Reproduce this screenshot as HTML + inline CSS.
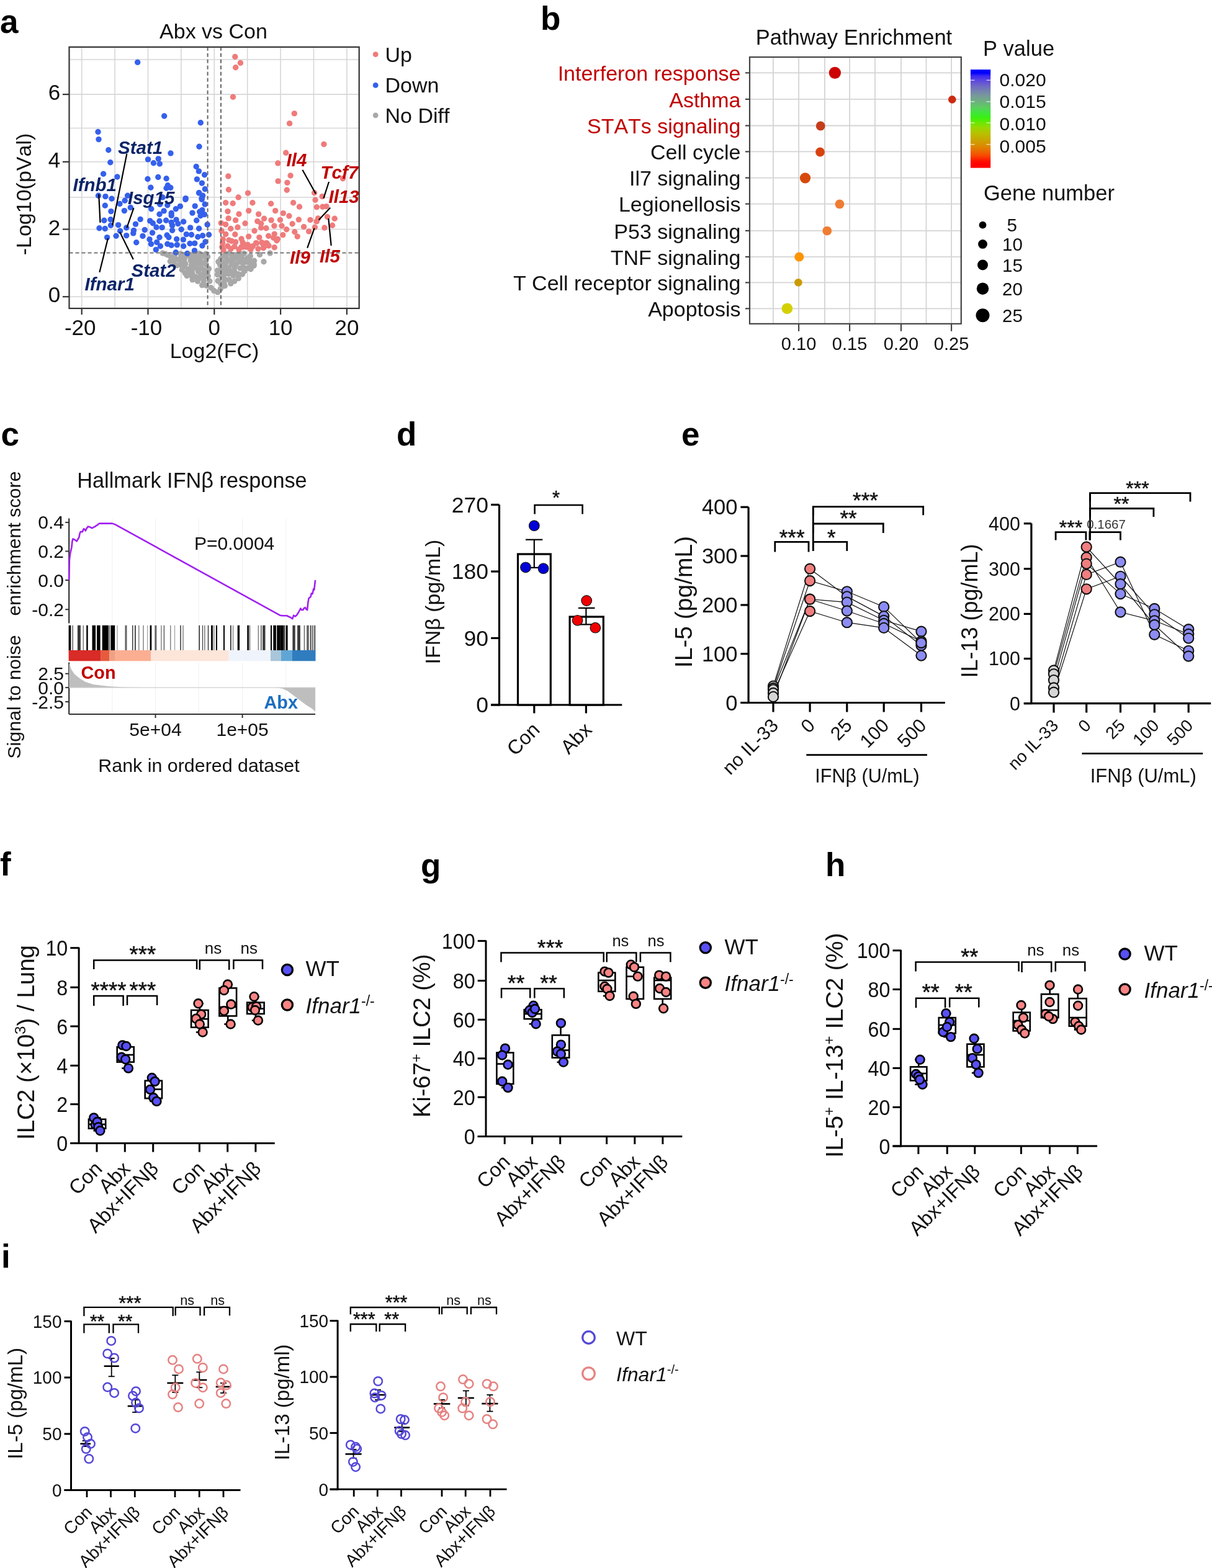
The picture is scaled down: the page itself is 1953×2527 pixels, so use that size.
<!DOCTYPE html>
<html><head><meta charset="utf-8"><title>Figure</title>
<style>html,body{margin:0;padding:0;background:#fff;}svg{display:block;}
text{font-family:"Liberation Sans", Arial, Helvetica, sans-serif;font-kerning:none;}</style></head>
<body><svg width="1953" height="2527" viewBox="0 0 1953 2527" font-family='"Liberation Sans", Arial, Helvetica, sans-serif' stroke-linecap="butt">
<rect width="1953" height="2527" fill="#fff"/>
<g>
<line x1="131.7" y1="75.8" x2="131.7" y2="497" stroke="#d6d6d6" stroke-width="1.6" />
<line x1="185.1" y1="75.8" x2="185.1" y2="497" stroke="#d6d6d6" stroke-width="1.6" />
<line x1="238.5" y1="75.8" x2="238.5" y2="497" stroke="#d6d6d6" stroke-width="1.6" />
<line x1="291.9" y1="75.8" x2="291.9" y2="497" stroke="#d6d6d6" stroke-width="1.6" />
<line x1="345.3" y1="75.8" x2="345.3" y2="497" stroke="#d6d6d6" stroke-width="1.6" />
<line x1="398.7" y1="75.8" x2="398.7" y2="497" stroke="#d6d6d6" stroke-width="1.6" />
<line x1="452.1" y1="75.8" x2="452.1" y2="497" stroke="#d6d6d6" stroke-width="1.6" />
<line x1="505.5" y1="75.8" x2="505.5" y2="497" stroke="#d6d6d6" stroke-width="1.6" />
<line x1="558.9" y1="75.8" x2="558.9" y2="497" stroke="#d6d6d6" stroke-width="1.6" />
<line x1="111.5" y1="478.2" x2="578.7" y2="478.2" stroke="#d6d6d6" stroke-width="1.6" />
<line x1="111.5" y1="369.5" x2="578.7" y2="369.5" stroke="#d6d6d6" stroke-width="1.6" />
<line x1="111.5" y1="318" x2="578.7" y2="318" stroke="#d6d6d6" stroke-width="1.6" />
<line x1="111.5" y1="260.8" x2="578.7" y2="260.8" stroke="#d6d6d6" stroke-width="1.6" />
<line x1="111.5" y1="206.5" x2="578.7" y2="206.5" stroke="#d6d6d6" stroke-width="1.6" />
<line x1="111.5" y1="152.1" x2="578.7" y2="152.1" stroke="#d6d6d6" stroke-width="1.6" />
<line x1="111.5" y1="96" x2="578.7" y2="96" stroke="#d6d6d6" stroke-width="1.6" />
</g>
<g fill="#a8a8a8">
<circle cx="297.21" cy="417.73" r="4.7"/>
<circle cx="325.51" cy="412.67" r="4.7"/>
<circle cx="315.55" cy="431.59" r="4.7"/>
<circle cx="275.24" cy="413.85" r="4.7"/>
<circle cx="279.91" cy="422.4" r="4.7"/>
<circle cx="281.68" cy="415.6" r="4.7"/>
<circle cx="324.47" cy="432.02" r="4.7"/>
<circle cx="316.58" cy="412.05" r="4.7"/>
<circle cx="274.36" cy="421.28" r="4.7"/>
<circle cx="308.4" cy="427.33" r="4.7"/>
<circle cx="337.91" cy="453.09" r="4.7"/>
<circle cx="332.3" cy="426.57" r="4.7"/>
<circle cx="335.34" cy="444.96" r="4.7"/>
<circle cx="329.34" cy="446.34" r="4.7"/>
<circle cx="319.36" cy="437.43" r="4.7"/>
<circle cx="310.21" cy="450.84" r="4.7"/>
<circle cx="340.07" cy="463.73" r="4.7"/>
<circle cx="293.28" cy="434.79" r="4.7"/>
<circle cx="320.16" cy="424.95" r="4.7"/>
<circle cx="301.14" cy="444.53" r="4.7"/>
<circle cx="303.14" cy="433.73" r="4.7"/>
<circle cx="287.26" cy="418.47" r="4.7"/>
<circle cx="298.61" cy="411.39" r="4.7"/>
<circle cx="322.32" cy="417.58" r="4.7"/>
<circle cx="309.51" cy="439.21" r="4.7"/>
<circle cx="298.84" cy="425.08" r="4.7"/>
<circle cx="314.89" cy="417.46" r="4.7"/>
<circle cx="325.68" cy="459.58" r="4.7"/>
<circle cx="334.09" cy="438.83" r="4.7"/>
<circle cx="331.9" cy="418.97" r="4.7"/>
<circle cx="290.98" cy="426.9" r="4.7"/>
<circle cx="307.27" cy="419.81" r="4.7"/>
<circle cx="303.65" cy="439.43" r="4.7"/>
<circle cx="331.67" cy="409.26" r="4.7"/>
<circle cx="318.56" cy="453.18" r="4.7"/>
<circle cx="328.73" cy="435.43" r="4.7"/>
<circle cx="314.78" cy="423.38" r="4.7"/>
<circle cx="290.86" cy="408.99" r="4.7"/>
<circle cx="332.68" cy="460.39" r="4.7"/>
<circle cx="328.27" cy="452.72" r="4.7"/>
<circle cx="311.25" cy="409.6" r="4.7"/>
<circle cx="314.56" cy="445.6" r="4.7"/>
<circle cx="321.19" cy="408.67" r="4.7"/>
<circle cx="320.77" cy="447.99" r="4.7"/>
<circle cx="350.78" cy="470.92" r="4.7"/>
<circle cx="310.13" cy="414.91" r="4.7"/>
<circle cx="281.71" cy="409.74" r="4.7"/>
<circle cx="336.51" cy="433.07" r="4.7"/>
<circle cx="325.94" cy="424.13" r="4.7"/>
<circle cx="292.89" cy="421.29" r="4.7"/>
<circle cx="285.13" cy="427.61" r="4.7"/>
<circle cx="304.08" cy="412.22" r="4.7"/>
<circle cx="298.14" cy="439.89" r="4.7"/>
<circle cx="334.64" cy="413.8" r="4.7"/>
<circle cx="323.6" cy="443.03" r="4.7"/>
<circle cx="309.91" cy="433.81" r="4.7"/>
<circle cx="309.11" cy="445.08" r="4.7"/>
<circle cx="291.57" cy="414.65" r="4.7"/>
<circle cx="296.08" cy="430.12" r="4.7"/>
<circle cx="344.78" cy="468.57" r="4.7"/>
<circle cx="328.63" cy="440.85" r="4.7"/>
<circle cx="270.45" cy="410.89" r="4.7"/>
<circle cx="369.26" cy="450.9" r="4.7"/>
<circle cx="391.63" cy="424.19" r="4.7"/>
<circle cx="364.29" cy="409.33" r="4.7"/>
<circle cx="355.43" cy="465.55" r="4.7"/>
<circle cx="351.08" cy="452.71" r="4.7"/>
<circle cx="398.66" cy="432.32" r="4.7"/>
<circle cx="380.45" cy="425.62" r="4.7"/>
<circle cx="359.61" cy="412.41" r="4.7"/>
<circle cx="383.15" cy="441.35" r="4.7"/>
<circle cx="361.36" cy="441.71" r="4.7"/>
<circle cx="354.69" cy="426.98" r="4.7"/>
<circle cx="391.02" cy="417.26" r="4.7"/>
<circle cx="382.01" cy="416.13" r="4.7"/>
<circle cx="404.13" cy="421.13" r="4.7"/>
<circle cx="409.23" cy="425.71" r="4.7"/>
<circle cx="350.45" cy="442.64" r="4.7"/>
<circle cx="373.78" cy="412.37" r="4.7"/>
<circle cx="384.22" cy="448.66" r="4.7"/>
<circle cx="378.12" cy="430.6" r="4.7"/>
<circle cx="368.22" cy="441.47" r="4.7"/>
<circle cx="363.58" cy="424.18" r="4.7"/>
<circle cx="350.51" cy="435.85" r="4.7"/>
<circle cx="356.85" cy="445.42" r="4.7"/>
<circle cx="379.76" cy="410.96" r="4.7"/>
<circle cx="376" cy="444.25" r="4.7"/>
<circle cx="377.76" cy="453.09" r="4.7"/>
<circle cx="386.94" cy="432.28" r="4.7"/>
<circle cx="377.27" cy="435.94" r="4.7"/>
<circle cx="373.14" cy="426.25" r="4.7"/>
<circle cx="361.81" cy="449.4" r="4.7"/>
<circle cx="398.73" cy="415.86" r="4.7"/>
<circle cx="386.44" cy="422.09" r="4.7"/>
<circle cx="365.33" cy="416.2" r="4.7"/>
<circle cx="403.92" cy="427.63" r="4.7"/>
<circle cx="355.61" cy="417.2" r="4.7"/>
<circle cx="361.11" cy="455.46" r="4.7"/>
<circle cx="393.64" cy="437.28" r="4.7"/>
<circle cx="357.41" cy="431.88" r="4.7"/>
<circle cx="392.98" cy="408.46" r="4.7"/>
<circle cx="376.29" cy="418.3" r="4.7"/>
<circle cx="390.41" cy="441.95" r="4.7"/>
<circle cx="392.6" cy="431.28" r="4.7"/>
<circle cx="363.82" cy="435.94" r="4.7"/>
<circle cx="368.37" cy="432.06" r="4.7"/>
<circle cx="387.98" cy="412.79" r="4.7"/>
<circle cx="371.83" cy="456.96" r="4.7"/>
<circle cx="355.79" cy="457.12" r="4.7"/>
<circle cx="369.64" cy="419.89" r="4.7"/>
<circle cx="358.39" cy="421.97" r="4.7"/>
<circle cx="409.58" cy="420.27" r="4.7"/>
<circle cx="403.34" cy="412.74" r="4.7"/>
<circle cx="362.29" cy="460.77" r="4.7"/>
<circle cx="397.35" cy="422.3" r="4.7"/>
<circle cx="351.83" cy="421.83" r="4.7"/>
<circle cx="363.43" cy="429.68" r="4.7"/>
<circle cx="404.01" cy="433.8" r="4.7"/>
<circle cx="371.35" cy="436.85" r="4.7"/>
<circle cx="369.73" cy="407.86" r="4.7"/>
<circle cx="357.12" cy="438.22" r="4.7"/>
<circle cx="385.38" cy="407.83" r="4.7"/>
<circle cx="418.5" cy="410.4" r="4.7"/>
<circle cx="425" cy="421.7" r="4.7"/>
<circle cx="435.1" cy="408" r="4.7"/>
<circle cx="262.1" cy="408" r="4.7"/>
<circle cx="266.8" cy="409.2" r="4.7"/>
<circle cx="409" cy="428.2" r="4.7"/>
</g>
<g fill="#3560ec">
<circle cx="221.7" cy="100.4" r="4.7"/>
<circle cx="264.7" cy="187" r="4.7"/>
<circle cx="323.3" cy="197.7" r="4.7"/>
<circle cx="158" cy="212.5" r="4.7"/>
<circle cx="159" cy="224.6" r="4.7"/>
<circle cx="321" cy="236.2" r="4.7"/>
<circle cx="174.8" cy="241.8" r="4.7"/>
<circle cx="275" cy="247" r="4.7"/>
<circle cx="238.5" cy="256.9" r="4.7"/>
<circle cx="255.2" cy="255.9" r="4.7"/>
<circle cx="247.4" cy="262.8" r="4.7"/>
<circle cx="257.3" cy="264" r="4.7"/>
<circle cx="177.8" cy="261.8" r="4.7"/>
<circle cx="316.2" cy="268.5" r="4.7"/>
<circle cx="320.4" cy="275.9" r="4.7"/>
<circle cx="329.6" cy="281.8" r="4.7"/>
<circle cx="166.6" cy="280.3" r="4.7"/>
<circle cx="188.9" cy="285" r="4.7"/>
<circle cx="238" cy="288.5" r="4.7"/>
<circle cx="254.8" cy="285.5" r="4.7"/>
<circle cx="268.1" cy="287.7" r="4.7"/>
<circle cx="317.4" cy="288.9" r="4.7"/>
<circle cx="325.4" cy="295.1" r="4.7"/>
<circle cx="242.9" cy="302.2" r="4.7"/>
<circle cx="270.3" cy="298.8" r="4.7"/>
<circle cx="274.8" cy="302.5" r="4.7"/>
<circle cx="268.1" cy="303.3" r="4.7"/>
<circle cx="330.3" cy="304.7" r="4.7"/>
<circle cx="320.7" cy="310.7" r="4.7"/>
<circle cx="158.5" cy="315.2" r="4.7"/>
<circle cx="169.9" cy="316.6" r="4.7"/>
<circle cx="180" cy="320.3" r="4.7"/>
<circle cx="205.6" cy="315.2" r="4.7"/>
<circle cx="201.2" cy="323.3" r="4.7"/>
<circle cx="193" cy="328.5" r="4.7"/>
<circle cx="210.3" cy="334.4" r="4.7"/>
<circle cx="169.3" cy="331.2" r="4.7"/>
<circle cx="178.9" cy="340.6" r="4.7"/>
<circle cx="200.4" cy="339.6" r="4.7"/>
<circle cx="326.6" cy="315.2" r="4.7"/>
<circle cx="325.1" cy="319.6" r="4.7"/>
<circle cx="299.2" cy="319.6" r="4.7"/>
<circle cx="167.8" cy="355.2" r="4.7"/>
<circle cx="178.2" cy="353.7" r="4.7"/>
<circle cx="160" cy="367.7" r="4.7"/>
<circle cx="169.3" cy="368.5" r="4.7"/>
<circle cx="178.5" cy="363.3" r="4.7"/>
<circle cx="190.6" cy="362.6" r="4.7"/>
<circle cx="203.7" cy="367" r="4.7"/>
<circle cx="218.5" cy="361.1" r="4.7"/>
<circle cx="215.5" cy="371.4" r="4.7"/>
<circle cx="193.6" cy="372.2" r="4.7"/>
<circle cx="172.6" cy="382.6" r="4.7"/>
<circle cx="187.1" cy="380.3" r="4.7"/>
<circle cx="203.7" cy="379.6" r="4.7"/>
<circle cx="214.8" cy="375.9" r="4.7"/>
<circle cx="219.7" cy="390.7" r="4.7"/>
<circle cx="320.6" cy="311" r="4.7"/>
<circle cx="262" cy="318" r="4.7"/>
<circle cx="298.9" cy="321.4" r="4.7"/>
<circle cx="325.2" cy="321.4" r="4.7"/>
<circle cx="257.7" cy="329.2" r="4.7"/>
<circle cx="269.8" cy="330.7" r="4.7"/>
<circle cx="290.4" cy="332.4" r="4.7"/>
<circle cx="283.3" cy="336.7" r="4.7"/>
<circle cx="314.2" cy="332.1" r="4.7"/>
<circle cx="330.2" cy="329.2" r="4.7"/>
<circle cx="243.8" cy="336.7" r="4.7"/>
<circle cx="264.1" cy="339.9" r="4.7"/>
<circle cx="257" cy="345.2" r="4.7"/>
<circle cx="276.2" cy="343.5" r="4.7"/>
<circle cx="276.2" cy="347.4" r="4.7"/>
<circle cx="310" cy="343.1" r="4.7"/>
<circle cx="321.7" cy="341.3" r="4.7"/>
<circle cx="325.9" cy="338.5" r="4.7"/>
<circle cx="329.5" cy="345.6" r="4.7"/>
<circle cx="323.1" cy="347.7" r="4.7"/>
<circle cx="316.7" cy="355.2" r="4.7"/>
<circle cx="226.1" cy="353.4" r="4.7"/>
<circle cx="241.7" cy="355.9" r="4.7"/>
<circle cx="246.3" cy="359.8" r="4.7"/>
<circle cx="252" cy="366.2" r="4.7"/>
<circle cx="261.2" cy="366.6" r="4.7"/>
<circle cx="257" cy="356.2" r="4.7"/>
<circle cx="267.6" cy="355.2" r="4.7"/>
<circle cx="276.2" cy="358.4" r="4.7"/>
<circle cx="277.6" cy="363.4" r="4.7"/>
<circle cx="277.6" cy="371.2" r="4.7"/>
<circle cx="284" cy="354.1" r="4.7"/>
<circle cx="286.8" cy="360.5" r="4.7"/>
<circle cx="295.7" cy="357.3" r="4.7"/>
<circle cx="292.2" cy="369.8" r="4.7"/>
<circle cx="306.7" cy="366.9" r="4.7"/>
<circle cx="320.6" cy="368.3" r="4.7"/>
<circle cx="334.1" cy="361.9" r="4.7"/>
<circle cx="233.2" cy="370.5" r="4.7"/>
<circle cx="245.6" cy="375.1" r="4.7"/>
<circle cx="230" cy="380.4" r="4.7"/>
<circle cx="269.1" cy="379" r="4.7"/>
<circle cx="271.9" cy="382.5" r="4.7"/>
<circle cx="257" cy="382.5" r="4.7"/>
<circle cx="241" cy="385.7" r="4.7"/>
<circle cx="243.5" cy="393.2" r="4.7"/>
<circle cx="252.7" cy="390.4" r="4.7"/>
<circle cx="258.4" cy="396.8" r="4.7"/>
<circle cx="251.3" cy="402.4" r="4.7"/>
<circle cx="269.8" cy="393.2" r="4.7"/>
<circle cx="276.2" cy="395.3" r="4.7"/>
<circle cx="284.7" cy="385.4" r="4.7"/>
<circle cx="285.4" cy="394.6" r="4.7"/>
<circle cx="295.4" cy="386.1" r="4.7"/>
<circle cx="295.7" cy="396.8" r="4.7"/>
<circle cx="300.3" cy="377.6" r="4.7"/>
<circle cx="308.5" cy="378.3" r="4.7"/>
<circle cx="306" cy="392.5" r="4.7"/>
<circle cx="313.8" cy="392.1" r="4.7"/>
<circle cx="318.8" cy="381.8" r="4.7"/>
<circle cx="326.6" cy="379.7" r="4.7"/>
<circle cx="336.6" cy="378.3" r="4.7"/>
<circle cx="330.9" cy="389.7" r="4.7"/>
<circle cx="325.9" cy="396" r="4.7"/>
<circle cx="283.3" cy="406.7" r="4.7"/>
<circle cx="301.8" cy="408.5" r="4.7"/>
<circle cx="313.5" cy="403.9" r="4.7"/>
</g>
<g fill="#ef7b7b">
<circle cx="378.8" cy="91.5" r="4.7"/>
<circle cx="387.4" cy="101.4" r="4.7"/>
<circle cx="379.7" cy="108.8" r="4.7"/>
<circle cx="375.5" cy="156.2" r="4.7"/>
<circle cx="474.3" cy="182.9" r="4.7"/>
<circle cx="466.6" cy="198.9" r="4.7"/>
<circle cx="521.9" cy="232.5" r="4.7"/>
<circle cx="460.7" cy="246.2" r="4.7"/>
<circle cx="447.8" cy="263" r="4.7"/>
<circle cx="367.8" cy="284" r="4.7"/>
<circle cx="468.1" cy="283" r="4.7"/>
<circle cx="448.1" cy="291.9" r="4.7"/>
<circle cx="462.9" cy="294.4" r="4.7"/>
<circle cx="552.5" cy="287.7" r="4.7"/>
<circle cx="368.4" cy="305.8" r="4.7"/>
<circle cx="462.3" cy="306.2" r="4.7"/>
<circle cx="399.5" cy="311.1" r="4.7"/>
<circle cx="506.6" cy="310.7" r="4.7"/>
<circle cx="519.2" cy="316.6" r="4.7"/>
<circle cx="384.1" cy="318" r="4.7"/>
<circle cx="363.7" cy="326.7" r="4.7"/>
<circle cx="375.2" cy="327.8" r="4.7"/>
<circle cx="406.9" cy="326.7" r="4.7"/>
<circle cx="436.6" cy="328.2" r="4.7"/>
<circle cx="472.6" cy="326.7" r="4.7"/>
<circle cx="482.5" cy="333.2" r="4.7"/>
<circle cx="508.1" cy="322.3" r="4.7"/>
<circle cx="510.3" cy="333.7" r="4.7"/>
<circle cx="519.9" cy="333.2" r="4.7"/>
<circle cx="525.9" cy="332.6" r="4.7"/>
<circle cx="367" cy="340.6" r="4.7"/>
<circle cx="400.7" cy="339.6" r="4.7"/>
<circle cx="443.7" cy="339.6" r="4.7"/>
<circle cx="416.7" cy="345.1" r="4.7"/>
<circle cx="456.3" cy="343.6" r="4.7"/>
<circle cx="465.9" cy="348" r="4.7"/>
<circle cx="368.1" cy="351.9" r="4.7"/>
<circle cx="379.7" cy="354.9" r="4.7"/>
<circle cx="425.6" cy="352.2" r="4.7"/>
<circle cx="414.8" cy="356.6" r="4.7"/>
<circle cx="437" cy="354.9" r="4.7"/>
<circle cx="451.4" cy="354.4" r="4.7"/>
<circle cx="481.4" cy="354" r="4.7"/>
<circle cx="500" cy="354.4" r="4.7"/>
<circle cx="512.5" cy="351.9" r="4.7"/>
<circle cx="527.4" cy="349.5" r="4.7"/>
<circle cx="539.2" cy="352.2" r="4.7"/>
<circle cx="510.3" cy="356.9" r="4.7"/>
<circle cx="356.3" cy="359.6" r="4.7"/>
<circle cx="363.7" cy="361.8" r="4.7"/>
<circle cx="371.8" cy="368.5" r="4.7"/>
<circle cx="383" cy="366.3" r="4.7"/>
<circle cx="420.7" cy="360.3" r="4.7"/>
<circle cx="420.7" cy="367" r="4.7"/>
<circle cx="428.9" cy="367.7" r="4.7"/>
<circle cx="441.9" cy="364" r="4.7"/>
<circle cx="454" cy="364" r="4.7"/>
<circle cx="461.7" cy="369.7" r="4.7"/>
<circle cx="471.1" cy="360.8" r="4.7"/>
<circle cx="489.6" cy="365.5" r="4.7"/>
<circle cx="507.4" cy="366.3" r="4.7"/>
<circle cx="522.9" cy="367" r="4.7"/>
<circle cx="535.5" cy="363.3" r="4.7"/>
<circle cx="497.7" cy="372.9" r="4.7"/>
<circle cx="474.8" cy="373.7" r="4.7"/>
<circle cx="479.2" cy="381.1" r="4.7"/>
<circle cx="363.7" cy="377.4" r="4.7"/>
<circle cx="378.8" cy="377.7" r="4.7"/>
<circle cx="400.7" cy="381.1" r="4.7"/>
<circle cx="417.8" cy="382.6" r="4.7"/>
<circle cx="432.6" cy="380.3" r="4.7"/>
<circle cx="442.2" cy="377.1" r="4.7"/>
<circle cx="455.8" cy="378.6" r="4.7"/>
<circle cx="359.3" cy="385.5" r="4.7"/>
<circle cx="368.9" cy="387" r="4.7"/>
<circle cx="373.3" cy="388.5" r="4.7"/>
<circle cx="379.7" cy="390" r="4.7"/>
<circle cx="391.1" cy="390.7" r="4.7"/>
<circle cx="399.2" cy="394.4" r="4.7"/>
<circle cx="407.4" cy="396.6" r="4.7"/>
<circle cx="413.3" cy="391.9" r="4.7"/>
<circle cx="422.9" cy="392.2" r="4.7"/>
<circle cx="430.3" cy="392.2" r="4.7"/>
<circle cx="445.9" cy="387.7" r="4.7"/>
<circle cx="440.7" cy="383.3" r="4.7"/>
<circle cx="357.8" cy="398.1" r="4.7"/>
<circle cx="366.7" cy="396.6" r="4.7"/>
<circle cx="377.8" cy="397.4" r="4.7"/>
<circle cx="388.9" cy="398.1" r="4.7"/>
<circle cx="397" cy="398.1" r="4.7"/>
<circle cx="424.4" cy="399.6" r="4.7"/>
<circle cx="442.2" cy="398.8" r="4.7"/>
<circle cx="447.4" cy="385.2" r="4.7"/>
<circle cx="358.6" cy="391.6" r="4.7"/>
<circle cx="396.2" cy="395.2" r="4.7"/>
<circle cx="407.1" cy="397.1" r="4.7"/>
<circle cx="412.6" cy="391.6" r="4.7"/>
<circle cx="421.8" cy="390.7" r="4.7"/>
<circle cx="429.1" cy="391.6" r="4.7"/>
<circle cx="425.5" cy="398" r="4.7"/>
<circle cx="391.6" cy="398" r="4.7"/>
<circle cx="385" cy="402" r="4.7"/>
<circle cx="416" cy="401" r="4.7"/>
<circle cx="372" cy="401" r="4.7"/>
<circle cx="360" cy="403" r="4.7"/>
<circle cx="433" cy="396" r="4.7"/>
<circle cx="404" cy="402" r="4.7"/>
<circle cx="357" cy="372" r="4.7"/>
<circle cx="389" cy="385" r="4.7"/>
<circle cx="410" cy="372" r="4.7"/>
<circle cx="395" cy="360" r="4.7"/>
<circle cx="385" cy="345" r="4.7"/>
</g>
<line x1="334.62" y1="75.8" x2="334.62" y2="497" stroke="#666" stroke-width="2" stroke-dasharray="6,4"/>
<line x1="355.98" y1="75.8" x2="355.98" y2="497" stroke="#666" stroke-width="2" stroke-dasharray="6,4"/>
<line x1="111.5" y1="407.54" x2="578.7" y2="407.54" stroke="#777" stroke-width="2" stroke-dasharray="6,4"/>
<rect x="111.5" y="75.8" width="467.2" height="421.2" fill="none" stroke="#333" stroke-width="2.2" />
<line x1="131.7" y1="497" x2="131.7" y2="507" stroke="#333" stroke-width="2.2" />
<text x="129.2" y="540" font-size="35" text-anchor="middle" fill="#111">-20</text>
<line x1="238.5" y1="497" x2="238.5" y2="507" stroke="#333" stroke-width="2.2" />
<text x="236" y="540" font-size="35" text-anchor="middle" fill="#111">-10</text>
<line x1="345.3" y1="497" x2="345.3" y2="507" stroke="#333" stroke-width="2.2" />
<text x="345.3" y="540" font-size="35" text-anchor="middle" fill="#111">0</text>
<line x1="452.1" y1="497" x2="452.1" y2="507" stroke="#333" stroke-width="2.2" />
<text x="452.1" y="540" font-size="35" text-anchor="middle" fill="#111">10</text>
<line x1="558.9" y1="497" x2="558.9" y2="507" stroke="#333" stroke-width="2.2" />
<text x="558.9" y="540" font-size="35" text-anchor="middle" fill="#111">20</text>
<line x1="100.9" y1="478.2" x2="111.5" y2="478.2" stroke="#333" stroke-width="2.2" />
<text x="97.2" y="487.2" font-size="35" text-anchor="end" fill="#111">0</text>
<line x1="100.9" y1="369.5" x2="111.5" y2="369.5" stroke="#333" stroke-width="2.2" />
<text x="97.2" y="378.5" font-size="35" text-anchor="end" fill="#111">2</text>
<line x1="100.9" y1="260.8" x2="111.5" y2="260.8" stroke="#333" stroke-width="2.2" />
<text x="97.2" y="269.8" font-size="35" text-anchor="end" fill="#111">4</text>
<line x1="100.9" y1="152.1" x2="111.5" y2="152.1" stroke="#333" stroke-width="2.2" />
<text x="97.2" y="161.1" font-size="35" text-anchor="end" fill="#111">6</text>
<text x="345.5" y="577" font-size="34" text-anchor="middle" fill="#111">Log2(FC)</text>
<text x="50" y="313" font-size="34" text-anchor="middle" fill="#111" transform="rotate(-90 50 313)">-Log10(pVal)</text>
<text x="344" y="61.5" font-size="34" text-anchor="middle" fill="#111">Abx vs Con</text>
<circle cx="605.2" cy="87.7" r="4.4" fill="#ef7b7b" />
<circle cx="605.2" cy="137.4" r="4.4" fill="#3560ec" />
<circle cx="605.2" cy="185.8" r="4.4" fill="#a8a8a8" />
<text x="620.5" y="99.5" font-size="34" fill="#111">Up</text>
<text x="620.5" y="149" font-size="34" fill="#111">Down</text>
<text x="620.5" y="197.5" font-size="34" fill="#111">No Diff</text>
<text x="190" y="247.5" font-size="29.5" font-weight="bold" font-style="italic" fill="#0b2468">Stat1</text>
<text x="117.5" y="308.3" font-size="29.5" font-weight="bold" font-style="italic" fill="#0b2468">Ifnb1</text>
<text x="206" y="329" font-size="29.5" font-weight="bold" font-style="italic" fill="#0b2468">Isg15</text>
<text x="211.5" y="446" font-size="29.5" font-weight="bold" font-style="italic" fill="#0b2468">Stat2</text>
<text x="136.5" y="467.5" font-size="29.5" font-weight="bold" font-style="italic" fill="#0b2468">Ifnar1</text>
<text x="461.5" y="268.3" font-size="29.5" font-weight="bold" font-style="italic" fill="#c00000">Il4</text>
<text x="516.5" y="287.6" font-size="29.5" font-weight="bold" font-style="italic" fill="#c00000">Tcf7</text>
<text x="529.5" y="326.8" font-size="29.5" font-weight="bold" font-style="italic" fill="#c00000">Il13</text>
<text x="467" y="425.3" font-size="29.5" font-weight="bold" font-style="italic" fill="#c00000">Il9</text>
<text x="515" y="423.1" font-size="29.5" font-weight="bold" font-style="italic" fill="#c00000">Il5</text>
<line x1="159.2" y1="313" x2="161.5" y2="358.9" stroke="#000" stroke-width="2.2" />
<line x1="204.4" y1="247.7" x2="181.2" y2="363.3" stroke="#000" stroke-width="2.2" />
<line x1="215.5" y1="335.2" x2="204.4" y2="367" stroke="#000" stroke-width="2.2" />
<line x1="193" y1="373.7" x2="214.8" y2="418.1" stroke="#000" stroke-width="2.2" />
<line x1="174" y1="384" x2="160.4" y2="438.8" stroke="#000" stroke-width="2.2" />
<line x1="487.4" y1="273.7" x2="508.8" y2="312.2" stroke="#000" stroke-width="2.2" />
<line x1="530" y1="293" x2="521.4" y2="319.6" stroke="#000" stroke-width="2.2" />
<line x1="532.2" y1="334.7" x2="513.6" y2="354.4" stroke="#000" stroke-width="2.2" />
<line x1="506.6" y1="367.7" x2="495.2" y2="399.6" stroke="#000" stroke-width="2.2" />
<line x1="529.3" y1="352.2" x2="533.7" y2="395.9" stroke="#000" stroke-width="2.2" />
<text x="0" y="52.5" font-size="53" font-weight="bold">a</text>
<line x1="1245.9" y1="92" x2="1245.9" y2="521.8" stroke="#d4d4d4" stroke-width="1.8" />
<line x1="1287.1" y1="92" x2="1287.1" y2="521.8" stroke="#d4d4d4" stroke-width="1.8" />
<line x1="1329" y1="92" x2="1329" y2="521.8" stroke="#d4d4d4" stroke-width="1.8" />
<line x1="1369.1" y1="92" x2="1369.1" y2="521.8" stroke="#d4d4d4" stroke-width="1.8" />
<line x1="1410" y1="92" x2="1410" y2="521.8" stroke="#d4d4d4" stroke-width="1.8" />
<line x1="1452" y1="92" x2="1452" y2="521.8" stroke="#d4d4d4" stroke-width="1.8" />
<line x1="1492.5" y1="92" x2="1492.5" y2="521.8" stroke="#d4d4d4" stroke-width="1.8" />
<line x1="1533.1" y1="92" x2="1533.1" y2="521.8" stroke="#d4d4d4" stroke-width="1.8" />
<line x1="1208" y1="117.4" x2="1548.8" y2="117.4" stroke="#d4d4d4" stroke-width="1.8" />
<line x1="1208" y1="159.9" x2="1548.8" y2="159.9" stroke="#d4d4d4" stroke-width="1.8" />
<line x1="1208" y1="202.5" x2="1548.8" y2="202.5" stroke="#d4d4d4" stroke-width="1.8" />
<line x1="1208" y1="244.4" x2="1548.8" y2="244.4" stroke="#d4d4d4" stroke-width="1.8" />
<line x1="1208" y1="286.6" x2="1548.8" y2="286.6" stroke="#d4d4d4" stroke-width="1.8" />
<line x1="1208" y1="328.6" x2="1548.8" y2="328.6" stroke="#d4d4d4" stroke-width="1.8" />
<line x1="1208" y1="371.8" x2="1548.8" y2="371.8" stroke="#d4d4d4" stroke-width="1.8" />
<line x1="1208" y1="413.9" x2="1548.8" y2="413.9" stroke="#d4d4d4" stroke-width="1.8" />
<line x1="1208" y1="455.4" x2="1548.8" y2="455.4" stroke="#d4d4d4" stroke-width="1.8" />
<line x1="1208" y1="497.3" x2="1548.8" y2="497.3" stroke="#d4d4d4" stroke-width="1.8" />
<rect x="1208" y="92" width="340.8" height="429.8" fill="none" stroke="#444" stroke-width="2.2" />
<line x1="1201" y1="117.4" x2="1208" y2="117.4" stroke="#444" stroke-width="2.2" />
<line x1="1201" y1="159.9" x2="1208" y2="159.9" stroke="#444" stroke-width="2.2" />
<line x1="1201" y1="202.5" x2="1208" y2="202.5" stroke="#444" stroke-width="2.2" />
<line x1="1201" y1="244.4" x2="1208" y2="244.4" stroke="#444" stroke-width="2.2" />
<line x1="1201" y1="286.6" x2="1208" y2="286.6" stroke="#444" stroke-width="2.2" />
<line x1="1201" y1="328.6" x2="1208" y2="328.6" stroke="#444" stroke-width="2.2" />
<line x1="1201" y1="371.8" x2="1208" y2="371.8" stroke="#444" stroke-width="2.2" />
<line x1="1201" y1="413.9" x2="1208" y2="413.9" stroke="#444" stroke-width="2.2" />
<line x1="1201" y1="455.4" x2="1208" y2="455.4" stroke="#444" stroke-width="2.2" />
<line x1="1201" y1="497.3" x2="1208" y2="497.3" stroke="#444" stroke-width="2.2" />
<line x1="1287.1" y1="521.8" x2="1287.1" y2="533.8" stroke="#444" stroke-width="2.2" />
<line x1="1369.1" y1="521.8" x2="1369.1" y2="533.8" stroke="#444" stroke-width="2.2" />
<line x1="1452" y1="521.8" x2="1452" y2="533.8" stroke="#444" stroke-width="2.2" />
<line x1="1533.1" y1="521.8" x2="1533.1" y2="533.8" stroke="#444" stroke-width="2.2" />
<text x="1193.5" y="130.2" font-size="34" text-anchor="end" fill="#c00000">Interferon response</text>
<text x="1193.5" y="172.7" font-size="34" text-anchor="end" fill="#c00000">Asthma</text>
<text x="1193.5" y="215.3" font-size="34" text-anchor="end" fill="#c00000">STATs signaling</text>
<text x="1193.5" y="257.2" font-size="34" text-anchor="end" fill="#111">Cell cycle</text>
<text x="1193.5" y="299.4" font-size="34" text-anchor="end" fill="#111">Il7 signaling</text>
<text x="1193.5" y="341.4" font-size="34" text-anchor="end" fill="#111">Legionellosis</text>
<text x="1193.5" y="384.6" font-size="34" text-anchor="end" fill="#111">P53 signaling</text>
<text x="1193.5" y="426.7" font-size="34" text-anchor="end" fill="#111">TNF signaling</text>
<text x="1193.5" y="468.2" font-size="34" text-anchor="end" fill="#111">T Cell receptor signaling</text>
<text x="1193.5" y="510.1" font-size="34" text-anchor="end" fill="#111">Apoptosis</text>
<circle cx="1345.4" cy="117.4" r="9.6" fill="#cc0000" />
<circle cx="1534.3" cy="160.4" r="6.3" fill="#cc2a10" />
<circle cx="1322.2" cy="203" r="7.4" fill="#c43c1a" />
<circle cx="1321.5" cy="245" r="7.4" fill="#d8420e" />
<circle cx="1297.5" cy="286.9" r="8.6" fill="#d64a0c" />
<circle cx="1353" cy="328.9" r="7.4" fill="#f07c32" />
<circle cx="1332.8" cy="372.1" r="7.4" fill="#f07c32" />
<circle cx="1287.8" cy="414" r="7.6" fill="#ff9400" />
<circle cx="1286.4" cy="455.3" r="6.3" fill="#cc9a00" />
<circle cx="1268.4" cy="497.2" r="8.8" fill="#d4d000" />
<text x="1287.1" y="564.3" font-size="29" text-anchor="middle" fill="#111">0.10</text>
<text x="1369.1" y="564.3" font-size="29" text-anchor="middle" fill="#111">0.15</text>
<text x="1452" y="564.3" font-size="29" text-anchor="middle" fill="#111">0.20</text>
<text x="1533.1" y="564.3" font-size="29" text-anchor="middle" fill="#111">0.25</text>
<text x="1376" y="72" font-size="34.5" text-anchor="middle" fill="#111">Pathway Enrichment</text>
<text x="1584" y="89.8" font-size="34.5" fill="#111">P value</text>
<defs><linearGradient id="cb" x1="0" y1="0" x2="0" y2="1"><stop offset="0" stop-color="#0000ff"/><stop offset="0.036" stop-color="#0000ff"/><stop offset="0.064" stop-color="#3c28f0"/><stop offset="0.11" stop-color="#5a46e0"/><stop offset="0.16" stop-color="#6e64c8"/><stop offset="0.216" stop-color="#7482b0"/><stop offset="0.27" stop-color="#789a98"/><stop offset="0.33" stop-color="#6cb27e"/><stop offset="0.384" stop-color="#5ccc60"/><stop offset="0.44" stop-color="#3ee63a"/><stop offset="0.49" stop-color="#3af010"/><stop offset="0.54" stop-color="#6ae800"/><stop offset="0.59" stop-color="#98d800"/><stop offset="0.65" stop-color="#b8c000"/><stop offset="0.71" stop-color="#c8a800"/><stop offset="0.765" stop-color="#d89000"/><stop offset="0.82" stop-color="#e87000"/><stop offset="0.877" stop-color="#f84800"/><stop offset="0.93" stop-color="#ff1000"/><stop offset="0.965" stop-color="#ff0000"/><stop offset="1" stop-color="#ff0000"/></linearGradient></defs>
<rect x="1563.9" y="112.1" width="32.3" height="158.5" fill="url(#cb)" stroke="none" stroke-width="0" />
<line x1="1563.9" y1="129.3" x2="1570.5" y2="129.3" stroke="#fff" stroke-width="1.4" stroke-opacity="0.7"/>
<line x1="1589.5" y1="129.3" x2="1596.2" y2="129.3" stroke="#fff" stroke-width="1.4" stroke-opacity="0.7"/>
<text x="1610.5" y="138.6" font-size="30" fill="#111">0.020</text>
<line x1="1563.9" y1="163.8" x2="1570.5" y2="163.8" stroke="#fff" stroke-width="1.4" stroke-opacity="0.7"/>
<line x1="1589.5" y1="163.8" x2="1596.2" y2="163.8" stroke="#fff" stroke-width="1.4" stroke-opacity="0.7"/>
<text x="1610.5" y="174.2" font-size="30" fill="#111">0.015</text>
<line x1="1563.9" y1="198" x2="1570.5" y2="198" stroke="#fff" stroke-width="1.4" stroke-opacity="0.7"/>
<line x1="1589.5" y1="198" x2="1596.2" y2="198" stroke="#fff" stroke-width="1.4" stroke-opacity="0.7"/>
<text x="1610.5" y="210.1" font-size="30" fill="#111">0.010</text>
<line x1="1563.9" y1="232.7" x2="1570.5" y2="232.7" stroke="#fff" stroke-width="1.4" stroke-opacity="0.7"/>
<line x1="1589.5" y1="232.7" x2="1596.2" y2="232.7" stroke="#fff" stroke-width="1.4" stroke-opacity="0.7"/>
<text x="1610.5" y="245.7" font-size="30" fill="#111">0.005</text>
<text x="1585" y="323" font-size="34.5" fill="#111">Gene number</text>
<circle cx="1583.5" cy="362.7" r="5.9" fill="#000" />
<text x="1622.5" y="373.2" font-size="29.5" fill="#111">5</text>
<circle cx="1583.5" cy="393.4" r="7.4" fill="#000" />
<text x="1615" y="403.9" font-size="29.5" fill="#111">10</text>
<circle cx="1583.5" cy="427" r="8.5" fill="#000" />
<text x="1615" y="437.5" font-size="29.5" fill="#111">15</text>
<circle cx="1583.5" cy="465.2" r="9.7" fill="#000" />
<text x="1615" y="475.7" font-size="29.5" fill="#111">20</text>
<circle cx="1583.5" cy="508.2" r="11" fill="#000" />
<text x="1615" y="518.7" font-size="29.5" fill="#111">25</text>
<text x="871" y="48" font-size="53" font-weight="bold">b</text>
<line x1="180.9" y1="836" x2="180.9" y2="1005" stroke="#f1f1f1" stroke-width="1" />
<line x1="180.9" y1="1068" x2="180.9" y2="1150" stroke="#f1f1f1" stroke-width="1" />
<line x1="250.5" y1="836" x2="250.5" y2="1005" stroke="#f1f1f1" stroke-width="1" />
<line x1="250.5" y1="1068" x2="250.5" y2="1150" stroke="#f1f1f1" stroke-width="1" />
<line x1="320.2" y1="836" x2="320.2" y2="1005" stroke="#f1f1f1" stroke-width="1" />
<line x1="320.2" y1="1068" x2="320.2" y2="1150" stroke="#f1f1f1" stroke-width="1" />
<line x1="390.6" y1="836" x2="390.6" y2="1005" stroke="#f1f1f1" stroke-width="1" />
<line x1="390.6" y1="1068" x2="390.6" y2="1150" stroke="#f1f1f1" stroke-width="1" />
<line x1="460.8" y1="836" x2="460.8" y2="1005" stroke="#f1f1f1" stroke-width="1" />
<line x1="460.8" y1="1068" x2="460.8" y2="1150" stroke="#f1f1f1" stroke-width="1" />
<line x1="111.2" y1="835.4" x2="111.2" y2="1004.5" stroke="#333" stroke-width="2.2" />
<line x1="105.2" y1="841.9" x2="111.2" y2="841.9" stroke="#333" stroke-width="2" />
<text x="103" y="852.4" font-size="30" text-anchor="end" fill="#111">0.4</text>
<line x1="105.2" y1="888.4" x2="111.2" y2="888.4" stroke="#333" stroke-width="2" />
<text x="103" y="898.9" font-size="30" text-anchor="end" fill="#111">0.2</text>
<line x1="105.2" y1="935" x2="111.2" y2="935" stroke="#333" stroke-width="2" />
<text x="103" y="945.5" font-size="30" text-anchor="end" fill="#111">0.0</text>
<line x1="105.2" y1="982.2" x2="111.2" y2="982.2" stroke="#333" stroke-width="2" />
<text x="103" y="992.7" font-size="30" text-anchor="end" fill="#111">-0.2</text>
<polyline points="111.2,935 111.6,915 111.9,902.1 113,893 113.7,889.7 115.4,882.2 116.5,872 117.4,868.5 120,869.5 123.6,872.3 125.5,869 127.4,866 128.5,860 129.9,856.8 132.8,857.3 134.8,852.3 136.5,853 137.8,855.3 140,851 141.8,848.6 145,849.5 148.5,851.1 151,849.5 153.5,848.6 155,847 157.2,846.1 159,844 161,843.6 170,843.6 180.9,843.6 185.8,845.4 451.2,991.7 455,992.1 462,992.2 468,995 471.2,997.2 473.2,991.7 475.7,993.4 478.2,991.2 481,987 484.4,980.5 486,983 488.2,983 490,980 491.9,979.2 493.5,982 495.1,983 496.5,970 497.6,964.3 500.6,961.8 501.8,956.4 503.6,956.9 505.1,949.4 506.3,950.6 507.2,942 508.1,935" stroke="#a020f0" stroke-width="2.6" fill="none" stroke-linejoin="round"/>
<rect x="110.6" y="1007.8" width="3.7" height="40.3" fill="#000" stroke="none" stroke-width="0" />
<rect x="116.4" y="1007.8" width="1.6" height="40.3" fill="#666" stroke="none" stroke-width="0" />
<rect x="124.9" y="1007.8" width="5" height="40.3" fill="#3a3a3a" stroke="none" stroke-width="0" />
<rect x="133.6" y="1007.8" width="1.3" height="40.3" fill="#666" stroke="none" stroke-width="0" />
<rect x="139.2" y="1007.8" width="2.5" height="40.3" fill="#000" stroke="none" stroke-width="0" />
<rect x="148.5" y="1007.8" width="5.6" height="40.3" fill="#000" stroke="none" stroke-width="0" />
<rect x="156" y="1007.8" width="5.6" height="40.3" fill="#000" stroke="none" stroke-width="0" />
<rect x="164.7" y="1007.8" width="10" height="40.3" fill="#000" stroke="none" stroke-width="0" />
<rect x="175.3" y="1007.8" width="1.9" height="40.3" fill="#666" stroke="none" stroke-width="0" />
<rect x="178.4" y="1007.8" width="6.8" height="40.3" fill="#000" stroke="none" stroke-width="0" />
<rect x="188.4" y="1007.8" width="1.2" height="40.3" fill="#999" stroke="none" stroke-width="0" />
<rect x="201.4" y="1007.8" width="3.1" height="40.3" fill="#666" stroke="none" stroke-width="0" />
<rect x="213" y="1007.8" width="1.5" height="40.3" fill="#3a3a3a" stroke="none" stroke-width="0" />
<rect x="217" y="1007.8" width="1.8" height="40.3" fill="#3a3a3a" stroke="none" stroke-width="0" />
<rect x="223.2" y="1007.8" width="1.2" height="40.3" fill="#666" stroke="none" stroke-width="0" />
<rect x="230.4" y="1007.8" width="1.2" height="40.3" fill="#666" stroke="none" stroke-width="0" />
<rect x="237.1" y="1007.8" width="1.1" height="40.3" fill="#999" stroke="none" stroke-width="0" />
<rect x="241.6" y="1007.8" width="2.7" height="40.3" fill="#000" stroke="none" stroke-width="0" />
<rect x="249.3" y="1007.8" width="3.1" height="40.3" fill="#666" stroke="none" stroke-width="0" />
<rect x="259.3" y="1007.8" width="1.2" height="40.3" fill="#666" stroke="none" stroke-width="0" />
<rect x="263.6" y="1007.8" width="1.6" height="40.3" fill="#666" stroke="none" stroke-width="0" />
<rect x="274.2" y="1007.8" width="1.2" height="40.3" fill="#666" stroke="none" stroke-width="0" />
<rect x="281" y="1007.8" width="1.1" height="40.3" fill="#999" stroke="none" stroke-width="0" />
<rect x="290.4" y="1007.8" width="1.2" height="40.3" fill="#000" stroke="none" stroke-width="0" />
<rect x="294.4" y="1007.8" width="1.2" height="40.3" fill="#666" stroke="none" stroke-width="0" />
<rect x="320.3" y="1007.8" width="1.8" height="40.3" fill="#3a3a3a" stroke="none" stroke-width="0" />
<rect x="325.9" y="1007.8" width="1.2" height="40.3" fill="#3a3a3a" stroke="none" stroke-width="0" />
<rect x="329.2" y="1007.8" width="1.3" height="40.3" fill="#666" stroke="none" stroke-width="0" />
<rect x="334.8" y="1007.8" width="1.5" height="40.3" fill="#3a3a3a" stroke="none" stroke-width="0" />
<rect x="340.1" y="1007.8" width="2.8" height="40.3" fill="#000" stroke="none" stroke-width="0" />
<rect x="344.2" y="1007.8" width="1.2" height="40.3" fill="#666" stroke="none" stroke-width="0" />
<rect x="347.9" y="1007.8" width="2.1" height="40.3" fill="#000" stroke="none" stroke-width="0" />
<rect x="360" y="1007.8" width="2" height="40.3" fill="#000" stroke="none" stroke-width="0" />
<rect x="370.9" y="1007.8" width="1.9" height="40.3" fill="#3a3a3a" stroke="none" stroke-width="0" />
<rect x="375" y="1007.8" width="1.1" height="40.3" fill="#666" stroke="none" stroke-width="0" />
<rect x="382.7" y="1007.8" width="3.4" height="40.3" fill="#000" stroke="none" stroke-width="0" />
<rect x="398.3" y="1007.8" width="2.5" height="40.3" fill="#000" stroke="none" stroke-width="0" />
<rect x="401" y="1007.8" width="2.5" height="40.3" fill="#999" stroke="none" stroke-width="0" />
<rect x="415.7" y="1007.8" width="1.2" height="40.3" fill="#666" stroke="none" stroke-width="0" />
<rect x="420" y="1007.8" width="1.7" height="40.3" fill="#666" stroke="none" stroke-width="0" />
<rect x="423.2" y="1007.8" width="4.3" height="40.3" fill="#3a3a3a" stroke="none" stroke-width="0" />
<rect x="436" y="1007.8" width="2.1" height="40.3" fill="#000" stroke="none" stroke-width="0" />
<rect x="440.3" y="1007.8" width="4.6" height="40.3" fill="#000" stroke="none" stroke-width="0" />
<rect x="446.2" y="1007.8" width="5.6" height="40.3" fill="#000" stroke="none" stroke-width="0" />
<rect x="451.8" y="1007.8" width="5" height="40.3" fill="#000" stroke="none" stroke-width="0" />
<rect x="457" y="1007.8" width="2.2" height="40.3" fill="#3a3a3a" stroke="none" stroke-width="0" />
<rect x="460.5" y="1007.8" width="3.1" height="40.3" fill="#000" stroke="none" stroke-width="0" />
<rect x="471.4" y="1007.8" width="4.3" height="40.3" fill="#3a3a3a" stroke="none" stroke-width="0" />
<rect x="479.1" y="1007.8" width="4.8" height="40.3" fill="#3a3a3a" stroke="none" stroke-width="0" />
<rect x="489.7" y="1007.8" width="1.5" height="40.3" fill="#666" stroke="none" stroke-width="0" />
<rect x="494.1" y="1007.8" width="3.7" height="40.3" fill="#666" stroke="none" stroke-width="0" />
<rect x="499.7" y="1007.8" width="1.8" height="40.3" fill="#3a3a3a" stroke="none" stroke-width="0" />
<rect x="502.8" y="1007.8" width="1.9" height="40.3" fill="#666" stroke="none" stroke-width="0" />
<rect x="505.9" y="1007.8" width="2.5" height="40.3" fill="#666" stroke="none" stroke-width="0" />
<rect x="110.6" y="1047.9" width="51.9" height="17.4" fill="#d92b27" stroke="none" stroke-width="0" />
<rect x="162.2" y="1047.9" width="14" height="17.4" fill="#e65b3d" stroke="none" stroke-width="0" />
<rect x="175.9" y="1047.9" width="9.4" height="17.4" fill="#f0a184" stroke="none" stroke-width="0" />
<rect x="185" y="1047.9" width="58.4" height="17.4" fill="#fbae92" stroke="none" stroke-width="0" />
<rect x="243.1" y="1047.9" width="125.7" height="17.4" fill="#fde5d9" stroke="none" stroke-width="0" />
<rect x="368.5" y="1047.9" width="67.8" height="17.4" fill="#eff3fb" stroke="none" stroke-width="0" />
<rect x="436" y="1047.9" width="17.3" height="17.4" fill="#a9c6da" stroke="none" stroke-width="0" />
<rect x="453" y="1047.9" width="18.3" height="17.4" fill="#60a6d4" stroke="none" stroke-width="0" />
<rect x="471" y="1047.9" width="37.5" height="17.4" fill="#2f7cbf" stroke="none" stroke-width="0" />
<line x1="111.2" y1="1067.6" x2="111.2" y2="1151" stroke="#333" stroke-width="2.2" />
<line x1="105.2" y1="1085.7" x2="111.2" y2="1085.7" stroke="#333" stroke-width="2" />
<text x="103" y="1096.2" font-size="30" text-anchor="end" fill="#111">2.5</text>
<line x1="105.2" y1="1108.1" x2="111.2" y2="1108.1" stroke="#333" stroke-width="2" />
<text x="103" y="1118.6" font-size="30" text-anchor="end" fill="#111">0.0</text>
<line x1="105.2" y1="1131" x2="111.2" y2="1131" stroke="#333" stroke-width="2" />
<text x="103" y="1141.5" font-size="30" text-anchor="end" fill="#111">-2.5</text>
<polygon points="111.2,1108.1 111.2,1068.8 114.9,1078.8 119.9,1086.2 127.4,1092.4 137.3,1098.7 149.8,1103.1 174.6,1106.1 199.5,1107.4 230,1108.1" fill="#bebebe" stroke="none" stroke-width="0" />
<polygon points="440,1108.1 448,1108.6 455.8,1109.9 463.3,1113.6 473.2,1121.1 483.2,1128.5 493.1,1136 503.1,1142.2 508.1,1147 508.1,1108.1" fill="#bebebe" stroke="none" stroke-width="0" />
<line x1="111.2" y1="1108.1" x2="508.1" y2="1108.1" stroke="#cfcfcf" stroke-width="1.2" />
<line x1="111.2" y1="1151" x2="508.1" y2="1151" stroke="#333" stroke-width="2.2" />
<line x1="250.5" y1="1151" x2="250.5" y2="1157" stroke="#333" stroke-width="2" />
<line x1="390.6" y1="1151" x2="390.6" y2="1157" stroke="#333" stroke-width="2" />
<text x="250.5" y="1186" font-size="30" text-anchor="middle" fill="#111">5e+04</text>
<text x="390.6" y="1186" font-size="30" text-anchor="middle" fill="#111">1e+05</text>
<text x="320.5" y="1243.5" font-size="30.4" text-anchor="middle" fill="#111">Rank in ordered dataset</text>
<text x="309.5" y="786" font-size="34.3" text-anchor="middle" fill="#111">Hallmark IFNβ response</text>
<text x="313" y="885.7" font-size="30" fill="#111">P=0.0004</text>
<text x="130.5" y="1093.7" font-size="28.8" font-weight="bold" fill="#c00000">Con</text>
<text x="425.5" y="1142.2" font-size="28.8" font-weight="bold" fill="#1a6ec0">Abx</text>
<text x="33" y="876" font-size="30.4" text-anchor="middle" fill="#111" transform="rotate(-90 33 876)">enrichment score</text>
<text x="33" y="1123" font-size="30.4" text-anchor="middle" fill="#111" transform="rotate(-90 33 1123)">Signal to noise</text>
<text x="1.5" y="718" font-size="53" font-weight="bold">c</text>
<line x1="804.5" y1="813.4" x2="804.5" y2="1137.5" stroke="#000" stroke-width="3.2" />
<line x1="791" y1="1136" x2="1002.3" y2="1136" stroke="#000" stroke-width="3.2" />
<line x1="791.2" y1="813.4" x2="804.5" y2="813.4" stroke="#000" stroke-width="3.2" />
<text x="787" y="825.8" font-size="35.5" text-anchor="end" fill="#111">270</text>
<line x1="791.2" y1="921" x2="804.5" y2="921" stroke="#000" stroke-width="3.2" />
<text x="787" y="933.4" font-size="35.5" text-anchor="end" fill="#111">180</text>
<line x1="791.2" y1="1028.4" x2="804.5" y2="1028.4" stroke="#000" stroke-width="3.2" />
<text x="787" y="1040.8" font-size="35.5" text-anchor="end" fill="#111">90</text>
<line x1="791.2" y1="1136" x2="804.5" y2="1136" stroke="#000" stroke-width="3.2" />
<text x="787" y="1148.4" font-size="35.5" text-anchor="end" fill="#111">0</text>
<line x1="860.8" y1="1136" x2="860.8" y2="1149.5" stroke="#000" stroke-width="3.2" />
<line x1="944.4" y1="1136" x2="944.4" y2="1149.5" stroke="#000" stroke-width="3.2" />
<rect x="834.5" y="893" width="52.8" height="243" fill="#fff" stroke="#000" stroke-width="3.2" />
<rect x="918.1" y="994" width="54.2" height="142" fill="#fff" stroke="#000" stroke-width="3.2" />
<line x1="860.8" y1="869.7" x2="860.8" y2="914.8" stroke="#000" stroke-width="2.2" />
<line x1="847" y1="869.7" x2="874.3" y2="869.7" stroke="#000" stroke-width="2.2" />
<line x1="847" y1="914.8" x2="874.3" y2="914.8" stroke="#000" stroke-width="2.2" />
<line x1="944.4" y1="979.9" x2="944.4" y2="1006.4" stroke="#000" stroke-width="2.2" />
<line x1="931.9" y1="979.9" x2="958.5" y2="979.9" stroke="#000" stroke-width="2.2" />
<line x1="931.9" y1="1006.4" x2="958.5" y2="1006.4" stroke="#000" stroke-width="2.2" />
<circle cx="860.8" cy="847.2" r="8.3" fill="#0000d8" stroke="#111" stroke-width="1.2" />
<circle cx="847" cy="914.3" r="8.3" fill="#0000d8" stroke="#111" stroke-width="1.2" />
<circle cx="875.6" cy="916.2" r="8.3" fill="#0000d8" stroke="#111" stroke-width="1.2" />
<circle cx="945.2" cy="968" r="8.3" fill="#f00000" stroke="#111" stroke-width="1.2" />
<circle cx="930.6" cy="999.8" r="8.3" fill="#f00000" stroke="#111" stroke-width="1.2" />
<circle cx="959.3" cy="1011.7" r="8.3" fill="#f00000" stroke="#111" stroke-width="1.2" />
<polyline points="861.6,828.6 861.6,814 938.6,814 938.6,828.6" stroke="#000" stroke-width="2.6" fill="none" stroke-linejoin="miter" stroke-linecap="butt"/>
<text x="896.1" y="812.8" font-size="31" text-anchor="middle" fill="#111" stroke="#111" stroke-width="0.5">*</text>
<text x="709" y="970" font-size="34" text-anchor="middle" fill="#111" transform="rotate(-90 709 970)">IFNβ (pg/mL)</text>
<text x="871.5" y="1178" font-size="32" text-anchor="end" fill="#111" transform="rotate(-45 871.5 1178)">Con</text>
<text x="955.5" y="1178" font-size="32" text-anchor="end" fill="#111" transform="rotate(-45 955.5 1178)">Abx</text>
<text x="639" y="718" font-size="53" font-weight="bold">d</text>
<line x1="1206.1" y1="817.2" x2="1206.1" y2="1134" stroke="#000" stroke-width="3.2" />
<line x1="1193.4" y1="1132.5" x2="1522.8" y2="1132.5" stroke="#000" stroke-width="3.2" />
<line x1="1193.4" y1="817.2" x2="1206.1" y2="817.2" stroke="#000" stroke-width="3.2" />
<text x="1188.5" y="829.4" font-size="34.5" text-anchor="end" fill="#111">400</text>
<line x1="1193.4" y1="896" x2="1206.1" y2="896" stroke="#000" stroke-width="3.2" />
<text x="1188.5" y="908.2" font-size="34.5" text-anchor="end" fill="#111">300</text>
<line x1="1193.4" y1="975" x2="1206.1" y2="975" stroke="#000" stroke-width="3.2" />
<text x="1188.5" y="987.2" font-size="34.5" text-anchor="end" fill="#111">200</text>
<line x1="1193.4" y1="1053.7" x2="1206.1" y2="1053.7" stroke="#000" stroke-width="3.2" />
<text x="1188.5" y="1065.9" font-size="34.5" text-anchor="end" fill="#111">100</text>
<line x1="1193.4" y1="1132.5" x2="1206.1" y2="1132.5" stroke="#000" stroke-width="3.2" />
<text x="1188.5" y="1144.7" font-size="34.5" text-anchor="end" fill="#111">0</text>
<line x1="1246" y1="1132.5" x2="1246" y2="1147.5" stroke="#000" stroke-width="3.2" />
<line x1="1305.1" y1="1132.5" x2="1305.1" y2="1147.5" stroke="#000" stroke-width="3.2" />
<line x1="1364.8" y1="1132.5" x2="1364.8" y2="1147.5" stroke="#000" stroke-width="3.2" />
<line x1="1424.2" y1="1132.5" x2="1424.2" y2="1147.5" stroke="#000" stroke-width="3.2" />
<line x1="1484.5" y1="1132.5" x2="1484.5" y2="1147.5" stroke="#000" stroke-width="3.2" />
<polyline points="1246,1105.6 1305.1,916.7 1364.8,961.4 1424.2,993.1 1484.5,1040.2" stroke="#111" stroke-width="1.2" fill="none" />
<polyline points="1246,1109 1305.1,936 1364.8,953.3 1424.2,977.9 1484.5,1036" stroke="#111" stroke-width="1.2" fill="none" />
<polyline points="1246,1111.4 1305.1,965.7 1364.8,970.6 1424.2,999.8 1484.5,1017.7" stroke="#111" stroke-width="1.2" fill="none" />
<polyline points="1246,1117 1305.1,985 1364.8,1003.2 1424.2,1011.9 1484.5,1056.6" stroke="#111" stroke-width="1.2" fill="none" />
<polyline points="1246,1122.9 1305.1,965.7 1364.8,984.5 1424.2,1005 1484.5,1033.5" stroke="#111" stroke-width="1.2" fill="none" />
<circle cx="1246" cy="1105.6" r="8.1" fill="#d6d6d6" stroke="#111" stroke-width="2.1" />
<circle cx="1246" cy="1109" r="8.1" fill="#d6d6d6" stroke="#111" stroke-width="2.1" />
<circle cx="1246" cy="1111.4" r="8.1" fill="#d6d6d6" stroke="#111" stroke-width="2.1" />
<circle cx="1246" cy="1117" r="8.1" fill="#d6d6d6" stroke="#111" stroke-width="2.1" />
<circle cx="1246" cy="1122.9" r="8.1" fill="#d6d6d6" stroke="#111" stroke-width="2.1" />
<circle cx="1305.1" cy="916.7" r="8.1" fill="#f07e7e" stroke="#111" stroke-width="2.1" />
<circle cx="1305.1" cy="936" r="8.1" fill="#f07e7e" stroke="#111" stroke-width="2.1" />
<circle cx="1305.1" cy="965.7" r="8.1" fill="#f07e7e" stroke="#111" stroke-width="2.1" />
<circle cx="1305.1" cy="985" r="8.1" fill="#f07e7e" stroke="#111" stroke-width="2.1" />
<circle cx="1305.1" cy="965.7" r="8.1" fill="#f07e7e" stroke="#111" stroke-width="2.1" />
<circle cx="1364.8" cy="953.3" r="8.1" fill="#8c8cf2" stroke="#111" stroke-width="2.1" />
<circle cx="1364.8" cy="961.4" r="8.1" fill="#8c8cf2" stroke="#111" stroke-width="2.1" />
<circle cx="1364.8" cy="970.6" r="8.1" fill="#8c8cf2" stroke="#111" stroke-width="2.1" />
<circle cx="1364.8" cy="984.5" r="8.1" fill="#8c8cf2" stroke="#111" stroke-width="2.1" />
<circle cx="1364.8" cy="1003.2" r="8.1" fill="#8c8cf2" stroke="#111" stroke-width="2.1" />
<circle cx="1424.2" cy="977.9" r="8.1" fill="#8c8cf2" stroke="#111" stroke-width="2.1" />
<circle cx="1424.2" cy="993.1" r="8.1" fill="#8c8cf2" stroke="#111" stroke-width="2.1" />
<circle cx="1424.2" cy="999.8" r="8.1" fill="#8c8cf2" stroke="#111" stroke-width="2.1" />
<circle cx="1424.2" cy="1005" r="8.1" fill="#8c8cf2" stroke="#111" stroke-width="2.1" />
<circle cx="1424.2" cy="1011.9" r="8.1" fill="#8c8cf2" stroke="#111" stroke-width="2.1" />
<circle cx="1484.5" cy="1017.7" r="8.1" fill="#8c8cf2" stroke="#111" stroke-width="2.1" />
<circle cx="1484.5" cy="1033.5" r="8.1" fill="#8c8cf2" stroke="#111" stroke-width="2.1" />
<circle cx="1484.5" cy="1040.2" r="8.1" fill="#8c8cf2" stroke="#111" stroke-width="2.1" />
<circle cx="1484.5" cy="1036" r="8.1" fill="#8c8cf2" stroke="#111" stroke-width="2.1" />
<circle cx="1484.5" cy="1056.6" r="8.1" fill="#8c8cf2" stroke="#111" stroke-width="2.1" />
<polyline points="1248.8,889.4 1248.8,873.4 1303,873.4 1303,889.4" stroke="#000" stroke-width="2.8" fill="none" stroke-linejoin="miter" stroke-linecap="butt"/>
<polyline points="1310.3,887.9 1310.3,873.4 1364.8,873.4 1364.8,887.9" stroke="#000" stroke-width="2.8" fill="none" stroke-linejoin="miter" stroke-linecap="butt"/>
<polyline points="1310.3,859 1310.3,844 1423.3,844 1423.3,859" stroke="#000" stroke-width="2.8" fill="none" stroke-linejoin="miter" stroke-linecap="butt"/>
<polyline points="1310.3,830.2 1310.3,816.6 1487.7,816.6 1487.7,830.2" stroke="#000" stroke-width="2.8" fill="none" stroke-linejoin="miter" stroke-linecap="butt"/>
<line x1="1310.3" y1="816.6" x2="1310.3" y2="888" stroke="#000" stroke-width="2.8" />
<text x="1276.2" y="877.5" font-size="35" text-anchor="middle" fill="#111" stroke="#111" stroke-width="0.5">***</text>
<text x="1339.7" y="877.5" font-size="35" text-anchor="middle" fill="#111" stroke="#111" stroke-width="0.5">*</text>
<text x="1367" y="847.2" font-size="35" text-anchor="middle" fill="#111" stroke="#111" stroke-width="0.5">**</text>
<text x="1394.5" y="818.3" font-size="35" text-anchor="middle" fill="#111" stroke="#111" stroke-width="0.5">***</text>
<text x="1114.5" y="970" font-size="39" text-anchor="middle" fill="#111" transform="rotate(-90 1114.5 970)">IL-5 (pg/mL)</text>
<text x="1256" y="1171" font-size="30.5" text-anchor="end" fill="#111" transform="rotate(-45 1256 1171)">no IL-33</text>
<text x="1315.1" y="1171" font-size="30.5" text-anchor="end" fill="#111" transform="rotate(-45 1315.1 1171)">0</text>
<text x="1374.8" y="1171" font-size="30.5" text-anchor="end" fill="#111" transform="rotate(-45 1374.8 1171)">25</text>
<text x="1434.2" y="1171" font-size="30.5" text-anchor="end" fill="#111" transform="rotate(-45 1434.2 1171)">100</text>
<text x="1494.5" y="1171" font-size="30.5" text-anchor="end" fill="#111" transform="rotate(-45 1494.5 1171)">500</text>
<line x1="1299.3" y1="1216.6" x2="1494" y2="1216.6" stroke="#000" stroke-width="2.8" />
<text x="1397.5" y="1260.5" font-size="30.5" text-anchor="middle" fill="#111">IFNβ (U/mL)</text>
<text x="1098" y="717.5" font-size="53" font-weight="bold">e</text>
<line x1="1661.9" y1="843.4" x2="1661.9" y2="1135" stroke="#000" stroke-width="3.2" />
<line x1="1649.8" y1="1133.6" x2="1951.2" y2="1133.6" stroke="#000" stroke-width="3.2" />
<line x1="1649.8" y1="843.7" x2="1661.9" y2="843.7" stroke="#000" stroke-width="3.2" />
<text x="1644" y="854.6" font-size="30.5" text-anchor="end" fill="#111">400</text>
<line x1="1649.8" y1="916.7" x2="1661.9" y2="916.7" stroke="#000" stroke-width="3.2" />
<text x="1644" y="927.6" font-size="30.5" text-anchor="end" fill="#111">300</text>
<line x1="1649.8" y1="989.4" x2="1661.9" y2="989.4" stroke="#000" stroke-width="3.2" />
<text x="1644" y="1000.3" font-size="30.5" text-anchor="end" fill="#111">200</text>
<line x1="1649.8" y1="1061.5" x2="1661.9" y2="1061.5" stroke="#000" stroke-width="3.2" />
<text x="1644" y="1072.4" font-size="30.5" text-anchor="end" fill="#111">100</text>
<line x1="1649.8" y1="1133.6" x2="1661.9" y2="1133.6" stroke="#000" stroke-width="3.2" />
<text x="1644" y="1144.5" font-size="30.5" text-anchor="end" fill="#111">0</text>
<line x1="1698" y1="1133.6" x2="1698" y2="1148.5" stroke="#000" stroke-width="3.2" />
<line x1="1750.7" y1="1133.6" x2="1750.7" y2="1148.5" stroke="#000" stroke-width="3.2" />
<line x1="1805.5" y1="1133.6" x2="1805.5" y2="1148.5" stroke="#000" stroke-width="3.2" />
<line x1="1860.3" y1="1133.6" x2="1860.3" y2="1148.5" stroke="#000" stroke-width="3.2" />
<line x1="1915.2" y1="1133.6" x2="1915.2" y2="1148.5" stroke="#000" stroke-width="3.2" />
<polyline points="1698,1080.5 1750.7,881.5 1805.5,941.2 1860.3,1007 1915.2,1057.5" stroke="#111" stroke-width="1.2" fill="none" />
<polyline points="1698,1086.3 1750.7,898.2 1805.5,986.5 1860.3,1000.3 1915.2,1022" stroke="#111" stroke-width="1.2" fill="none" />
<polyline points="1698,1096.1 1750.7,908.6 1805.5,957.1 1860.3,981 1915.2,1014.2" stroke="#111" stroke-width="1.2" fill="none" />
<polyline points="1698,1108.5 1750.7,925.9 1805.5,905.7 1860.3,1022.8 1915.2,1048.8" stroke="#111" stroke-width="1.2" fill="none" />
<polyline points="1698,1115.7 1750.7,949.3 1805.5,928.8 1860.3,990.3 1915.2,1028.6" stroke="#111" stroke-width="1.2" fill="none" />
<circle cx="1698" cy="1080.5" r="8.1" fill="#d6d6d6" stroke="#111" stroke-width="2.1" />
<circle cx="1698" cy="1086.3" r="8.1" fill="#d6d6d6" stroke="#111" stroke-width="2.1" />
<circle cx="1698" cy="1096.1" r="8.1" fill="#d6d6d6" stroke="#111" stroke-width="2.1" />
<circle cx="1698" cy="1108.5" r="8.1" fill="#d6d6d6" stroke="#111" stroke-width="2.1" />
<circle cx="1698" cy="1115.7" r="8.1" fill="#d6d6d6" stroke="#111" stroke-width="2.1" />
<circle cx="1750.7" cy="881.5" r="8.1" fill="#f07e7e" stroke="#111" stroke-width="2.1" />
<circle cx="1750.7" cy="898.2" r="8.1" fill="#f07e7e" stroke="#111" stroke-width="2.1" />
<circle cx="1750.7" cy="908.6" r="8.1" fill="#f07e7e" stroke="#111" stroke-width="2.1" />
<circle cx="1750.7" cy="925.9" r="8.1" fill="#f07e7e" stroke="#111" stroke-width="2.1" />
<circle cx="1750.7" cy="949.3" r="8.1" fill="#f07e7e" stroke="#111" stroke-width="2.1" />
<circle cx="1805.5" cy="905.7" r="8.1" fill="#8c8cf2" stroke="#111" stroke-width="2.1" />
<circle cx="1805.5" cy="928.8" r="8.1" fill="#8c8cf2" stroke="#111" stroke-width="2.1" />
<circle cx="1805.5" cy="941.2" r="8.1" fill="#8c8cf2" stroke="#111" stroke-width="2.1" />
<circle cx="1805.5" cy="957.1" r="8.1" fill="#8c8cf2" stroke="#111" stroke-width="2.1" />
<circle cx="1805.5" cy="986.5" r="8.1" fill="#8c8cf2" stroke="#111" stroke-width="2.1" />
<circle cx="1860.3" cy="981" r="8.1" fill="#8c8cf2" stroke="#111" stroke-width="2.1" />
<circle cx="1860.3" cy="990.3" r="8.1" fill="#8c8cf2" stroke="#111" stroke-width="2.1" />
<circle cx="1860.3" cy="1000.3" r="8.1" fill="#8c8cf2" stroke="#111" stroke-width="2.1" />
<circle cx="1860.3" cy="1007" r="8.1" fill="#8c8cf2" stroke="#111" stroke-width="2.1" />
<circle cx="1860.3" cy="1022.8" r="8.1" fill="#8c8cf2" stroke="#111" stroke-width="2.1" />
<circle cx="1915.2" cy="1014.2" r="8.1" fill="#8c8cf2" stroke="#111" stroke-width="2.1" />
<circle cx="1915.2" cy="1022" r="8.1" fill="#8c8cf2" stroke="#111" stroke-width="2.1" />
<circle cx="1915.2" cy="1028.6" r="8.1" fill="#8c8cf2" stroke="#111" stroke-width="2.1" />
<circle cx="1915.2" cy="1048.8" r="8.1" fill="#8c8cf2" stroke="#111" stroke-width="2.1" />
<circle cx="1915.2" cy="1057.5" r="8.1" fill="#8c8cf2" stroke="#111" stroke-width="2.1" />
<polyline points="1701.1,870.6 1701.1,857.6 1749.9,857.6 1749.9,870.6" stroke="#000" stroke-width="2.8" fill="none" stroke-linejoin="miter" stroke-linecap="butt"/>
<polyline points="1755.9,870.6 1755.9,857.6 1805.5,857.6 1805.5,870.6" stroke="#000" stroke-width="2.8" fill="none" stroke-linejoin="miter" stroke-linecap="butt"/>
<polyline points="1756.5,833 1756.5,819.5 1858.9,819.5 1858.9,833" stroke="#000" stroke-width="2.8" fill="none" stroke-linejoin="miter" stroke-linecap="butt"/>
<polyline points="1756.5,808.5 1756.5,794.7 1918,794.7 1918,808.5" stroke="#000" stroke-width="2.8" fill="none" stroke-linejoin="miter" stroke-linecap="butt"/>
<line x1="1756.5" y1="794.7" x2="1756.5" y2="870.6" stroke="#000" stroke-width="2.8" />
<text x="1725.5" y="860.9" font-size="32" text-anchor="middle" fill="#111" stroke="#111" stroke-width="0.5">***</text>
<text x="1782.5" y="851.8" font-size="20.5" text-anchor="middle" fill="#333">0.1667</text>
<text x="1807" y="823.4" font-size="32" text-anchor="middle" fill="#111" stroke="#111" stroke-width="0.5">**</text>
<text x="1833" y="797.5" font-size="32" text-anchor="middle" fill="#111" stroke="#111" stroke-width="0.5">***</text>
<text x="1574.5" y="984.5" font-size="36" text-anchor="middle" fill="#111" transform="rotate(-90 1574.5 984.5)">IL-13 (pg/mL)</text>
<text x="1707" y="1171" font-size="27.5" text-anchor="end" fill="#111" transform="rotate(-45 1707 1171)">no IL-33</text>
<text x="1759.7" y="1171" font-size="27.5" text-anchor="end" fill="#111" transform="rotate(-45 1759.7 1171)">0</text>
<text x="1814.5" y="1171" font-size="27.5" text-anchor="end" fill="#111" transform="rotate(-45 1814.5 1171)">25</text>
<text x="1869.3" y="1171" font-size="27.5" text-anchor="end" fill="#111" transform="rotate(-45 1869.3 1171)">100</text>
<text x="1924.2" y="1171" font-size="27.5" text-anchor="end" fill="#111" transform="rotate(-45 1924.2 1171)">500</text>
<line x1="1743.5" y1="1214.4" x2="1938.2" y2="1214.4" stroke="#000" stroke-width="2.8" />
<text x="1842.3" y="1261" font-size="31" text-anchor="middle" fill="#111">IFNβ (U/mL)</text>
<line x1="127.1" y1="1526.7" x2="127.1" y2="1843.8" stroke="#000" stroke-width="3" />
<line x1="113.3" y1="1527.7" x2="127.1" y2="1527.7" stroke="#000" stroke-width="3" />
<text x="109.3" y="1539.26" font-size="32.3" text-anchor="end" fill="#111" transform="translate(0 1527.7) scale(1 1.09) translate(0 -1527.7)">10</text>
<line x1="113.3" y1="1591.2" x2="127.1" y2="1591.2" stroke="#000" stroke-width="3" />
<text x="109.3" y="1602.76" font-size="32.3" text-anchor="end" fill="#111" transform="translate(0 1591.2) scale(1 1.09) translate(0 -1591.2)">8</text>
<line x1="113.3" y1="1654" x2="127.1" y2="1654" stroke="#000" stroke-width="3" />
<text x="109.3" y="1665.56" font-size="32.3" text-anchor="end" fill="#111" transform="translate(0 1654) scale(1 1.09) translate(0 -1654)">6</text>
<line x1="113.3" y1="1717.3" x2="127.1" y2="1717.3" stroke="#000" stroke-width="3" />
<text x="109.3" y="1728.86" font-size="32.3" text-anchor="end" fill="#111" transform="translate(0 1717.3) scale(1 1.09) translate(0 -1717.3)">4</text>
<line x1="113.3" y1="1779.6" x2="127.1" y2="1779.6" stroke="#000" stroke-width="3" />
<text x="109.3" y="1791.16" font-size="32.3" text-anchor="end" fill="#111" transform="translate(0 1779.6) scale(1 1.09) translate(0 -1779.6)">2</text>
<line x1="113.3" y1="1842.4" x2="127.1" y2="1842.4" stroke="#000" stroke-width="3" />
<text x="109.3" y="1853.96" font-size="32.3" text-anchor="end" fill="#111" transform="translate(0 1842.4) scale(1 1.09) translate(0 -1842.4)">0</text>
<line x1="113.3" y1="1842.4" x2="442.7" y2="1842.4" stroke="#000" stroke-width="3" />
<line x1="156" y1="1842.4" x2="156" y2="1856.6" stroke="#000" stroke-width="3" />
<line x1="201.3" y1="1842.4" x2="201.3" y2="1856.6" stroke="#000" stroke-width="3" />
<line x1="246.7" y1="1842.4" x2="246.7" y2="1856.6" stroke="#000" stroke-width="3" />
<line x1="321.4" y1="1842.4" x2="321.4" y2="1856.6" stroke="#000" stroke-width="3" />
<line x1="366.7" y1="1842.4" x2="366.7" y2="1856.6" stroke="#000" stroke-width="3" />
<line x1="411.9" y1="1842.4" x2="411.9" y2="1856.6" stroke="#000" stroke-width="3" />
<line x1="156.55" y1="1803.8" x2="156.55" y2="1822.3" stroke="#000" stroke-width="2.6" />
<line x1="156.55" y1="1818.7" x2="156.55" y2="1801.4" stroke="#000" stroke-width="2.6" />
<line x1="150.55" y1="1822.3" x2="162.55" y2="1822.3" stroke="#000" stroke-width="2.6" />
<line x1="150.55" y1="1801.4" x2="162.55" y2="1801.4" stroke="#000" stroke-width="2.6" />
<rect x="142.9" y="1803.8" width="27.3" height="14.9" fill="#fff" stroke="#000" stroke-width="2.6" />
<line x1="142.9" y1="1812" x2="170.2" y2="1812" stroke="#000" stroke-width="2.6" />
<circle cx="151.2" cy="1801.4" r="6.9" fill="#5850f5" stroke="#000" stroke-width="2.6" />
<circle cx="153.6" cy="1812.8" r="6.9" fill="#5850f5" stroke="#000" stroke-width="2.6" />
<circle cx="156.7" cy="1808" r="6.9" fill="#5850f5" stroke="#000" stroke-width="2.6" />
<circle cx="158.3" cy="1816.4" r="6.9" fill="#5850f5" stroke="#000" stroke-width="2.6" />
<circle cx="161.4" cy="1822.3" r="6.9" fill="#5850f5" stroke="#000" stroke-width="2.6" />
<line x1="202.2" y1="1687.2" x2="202.2" y2="1721.6" stroke="#000" stroke-width="2.6" />
<line x1="202.2" y1="1711.6" x2="202.2" y2="1684.4" stroke="#000" stroke-width="2.6" />
<line x1="196.2" y1="1721.6" x2="208.2" y2="1721.6" stroke="#000" stroke-width="2.6" />
<line x1="196.2" y1="1684.4" x2="208.2" y2="1684.4" stroke="#000" stroke-width="2.6" />
<rect x="188.7" y="1687.2" width="27" height="24.4" fill="#fff" stroke="#000" stroke-width="2.6" />
<line x1="188.7" y1="1700" x2="215.7" y2="1700" stroke="#000" stroke-width="2.6" />
<circle cx="197.4" cy="1684.4" r="6.9" fill="#5850f5" stroke="#000" stroke-width="2.6" />
<circle cx="203.4" cy="1686" r="6.9" fill="#5850f5" stroke="#000" stroke-width="2.6" />
<circle cx="195.8" cy="1703.8" r="6.9" fill="#5850f5" stroke="#000" stroke-width="2.6" />
<circle cx="202.2" cy="1707.3" r="6.9" fill="#5850f5" stroke="#000" stroke-width="2.6" />
<circle cx="206.9" cy="1721.6" r="6.9" fill="#5850f5" stroke="#000" stroke-width="2.6" />
<line x1="247.35" y1="1741.7" x2="247.35" y2="1774.9" stroke="#000" stroke-width="2.6" />
<line x1="247.35" y1="1770.1" x2="247.35" y2="1737" stroke="#000" stroke-width="2.6" />
<line x1="241.35" y1="1774.9" x2="253.35" y2="1774.9" stroke="#000" stroke-width="2.6" />
<line x1="241.35" y1="1737" x2="253.35" y2="1737" stroke="#000" stroke-width="2.6" />
<rect x="233.7" y="1741.7" width="27.3" height="28.4" fill="#fff" stroke="#000" stroke-width="2.6" />
<line x1="233.7" y1="1755.5" x2="261" y2="1755.5" stroke="#000" stroke-width="2.6" />
<circle cx="244.8" cy="1737" r="6.9" fill="#5850f5" stroke="#000" stroke-width="2.6" />
<circle cx="249.6" cy="1742.9" r="6.9" fill="#5850f5" stroke="#000" stroke-width="2.6" />
<circle cx="242" cy="1755.9" r="6.9" fill="#5850f5" stroke="#000" stroke-width="2.6" />
<circle cx="247.2" cy="1769" r="6.9" fill="#5850f5" stroke="#000" stroke-width="2.6" />
<circle cx="252.4" cy="1774.9" r="6.9" fill="#5850f5" stroke="#000" stroke-width="2.6" />
<line x1="321.85" y1="1628" x2="321.85" y2="1663.5" stroke="#000" stroke-width="2.6" />
<line x1="321.85" y1="1655.7" x2="321.85" y2="1617.3" stroke="#000" stroke-width="2.6" />
<line x1="315.85" y1="1663.5" x2="327.85" y2="1663.5" stroke="#000" stroke-width="2.6" />
<line x1="315.85" y1="1617.3" x2="327.85" y2="1617.3" stroke="#000" stroke-width="2.6" />
<rect x="308.1" y="1628" width="27.5" height="27.7" fill="#fff" stroke="#000" stroke-width="2.6" />
<line x1="308.1" y1="1642.2" x2="335.6" y2="1642.2" stroke="#000" stroke-width="2.6" />
<circle cx="319.5" cy="1617.3" r="6.9" fill="#f88484" stroke="#000" stroke-width="2.6" />
<circle cx="324.2" cy="1634.6" r="6.9" fill="#f88484" stroke="#000" stroke-width="2.6" />
<circle cx="315.9" cy="1641.7" r="6.9" fill="#f88484" stroke="#000" stroke-width="2.6" />
<circle cx="321.8" cy="1650.5" r="6.9" fill="#f88484" stroke="#000" stroke-width="2.6" />
<circle cx="326.6" cy="1663.5" r="6.9" fill="#f88484" stroke="#000" stroke-width="2.6" />
<line x1="367.25" y1="1592.4" x2="367.25" y2="1650.5" stroke="#000" stroke-width="2.6" />
<line x1="367.25" y1="1637.4" x2="367.25" y2="1586.5" stroke="#000" stroke-width="2.6" />
<line x1="361.25" y1="1650.5" x2="373.25" y2="1650.5" stroke="#000" stroke-width="2.6" />
<line x1="361.25" y1="1586.5" x2="373.25" y2="1586.5" stroke="#000" stroke-width="2.6" />
<rect x="353.4" y="1592.4" width="27.7" height="45" fill="#fff" stroke="#000" stroke-width="2.6" />
<line x1="353.4" y1="1623" x2="381.1" y2="1623" stroke="#000" stroke-width="2.6" />
<circle cx="366.9" cy="1586.5" r="6.9" fill="#f88484" stroke="#000" stroke-width="2.6" />
<circle cx="361" cy="1596" r="6.9" fill="#f88484" stroke="#000" stroke-width="2.6" />
<circle cx="372.3" cy="1618.5" r="6.9" fill="#f88484" stroke="#000" stroke-width="2.6" />
<circle cx="361" cy="1629.1" r="6.9" fill="#f88484" stroke="#000" stroke-width="2.6" />
<circle cx="371.6" cy="1650.5" r="6.9" fill="#f88484" stroke="#000" stroke-width="2.6" />
<line x1="411.9" y1="1615.6" x2="411.9" y2="1644.5" stroke="#000" stroke-width="2.6" />
<line x1="411.9" y1="1633.9" x2="411.9" y2="1606.2" stroke="#000" stroke-width="2.6" />
<line x1="405.9" y1="1644.5" x2="417.9" y2="1644.5" stroke="#000" stroke-width="2.6" />
<line x1="405.9" y1="1606.2" x2="417.9" y2="1606.2" stroke="#000" stroke-width="2.6" />
<rect x="398.2" y="1615.6" width="27.4" height="18.3" fill="#fff" stroke="#000" stroke-width="2.6" />
<line x1="398.2" y1="1625.6" x2="425.6" y2="1625.6" stroke="#000" stroke-width="2.6" />
<circle cx="409.5" cy="1606.2" r="6.9" fill="#f88484" stroke="#000" stroke-width="2.6" />
<circle cx="406.4" cy="1623.2" r="6.9" fill="#f88484" stroke="#000" stroke-width="2.6" />
<circle cx="413.1" cy="1622" r="6.9" fill="#f88484" stroke="#000" stroke-width="2.6" />
<circle cx="411" cy="1628" r="6.9" fill="#f88484" stroke="#000" stroke-width="2.6" />
<circle cx="415.9" cy="1644.5" r="6.9" fill="#f88484" stroke="#000" stroke-width="2.6" />
<polyline points="151.2,1562.1 151.2,1547.4 317.1,1547.4 317.1,1562.1" stroke="#000" stroke-width="2.5" fill="none" stroke-linejoin="miter" stroke-linecap="butt"/>
<polyline points="321.8,1562.9 321.8,1547.4 369.2,1547.4 369.2,1562.9" stroke="#000" stroke-width="2.5" fill="none" stroke-linejoin="miter" stroke-linecap="butt"/>
<polyline points="376.4,1562.1 376.4,1547.4 423,1547.4 423,1562.1" stroke="#000" stroke-width="2.5" fill="none" stroke-linejoin="miter" stroke-linecap="butt"/>
<polyline points="151.2,1620.9 151.2,1605 198.6,1605 198.6,1620.9" stroke="#000" stroke-width="2.5" fill="none" stroke-linejoin="miter" stroke-linecap="butt"/>
<polyline points="205,1620 205,1605 253.1,1605 253.1,1620" stroke="#000" stroke-width="2.5" fill="none" stroke-linejoin="miter" stroke-linecap="butt"/>
<text x="229.9" y="1551.2" font-size="36.5" text-anchor="middle" fill="#111" stroke="#111" stroke-width="0.5">***</text>
<text x="343.6" y="1536.5" font-size="26" text-anchor="middle" fill="#111">ns</text>
<text x="401.3" y="1536.5" font-size="26" text-anchor="middle" fill="#111">ns</text>
<text x="175" y="1609.3" font-size="36.5" text-anchor="middle" fill="#111" stroke="#111" stroke-width="0.5">****</text>
<text x="229.9" y="1609.3" font-size="36.5" text-anchor="middle" fill="#111" stroke="#111" stroke-width="0.5">***</text>
<text x="55" y="1680" font-size="38.5" text-anchor="middle" fill="#111" transform="rotate(-90 55 1680)">ILC2 (×10<tspan font-size="24" dy="-14">3</tspan><tspan dy="14">) / Lung</tspan></text>
<text x="166.5" y="1885.4" font-size="32.5" text-anchor="end" fill="#111" transform="rotate(-45 166.5 1885.4)">Con</text>
<text x="211.8" y="1885.4" font-size="32.5" text-anchor="end" fill="#111" transform="rotate(-45 211.8 1885.4)">Abx</text>
<text x="257.2" y="1885.4" font-size="32.5" text-anchor="end" fill="#111" transform="rotate(-45 257.2 1885.4)">Abx+IFNβ</text>
<text x="331.9" y="1885.4" font-size="32.5" text-anchor="end" fill="#111" transform="rotate(-45 331.9 1885.4)">Con</text>
<text x="377.2" y="1885.4" font-size="32.5" text-anchor="end" fill="#111" transform="rotate(-45 377.2 1885.4)">Abx</text>
<text x="422.4" y="1885.4" font-size="32.5" text-anchor="end" fill="#111" transform="rotate(-45 422.4 1885.4)">Abx+IFNβ</text>
<circle cx="462.9" cy="1563" r="8.6" fill="#5850f5" stroke="#000" stroke-width="3.3" />
<circle cx="462.9" cy="1619.5" r="8.6" fill="#f88484" stroke="#000" stroke-width="3.3" />
<text x="492.5" y="1573.4" font-size="35" fill="#111">WT</text>
<text x="492.5" y="1632.5" font-size="35" font-style="italic" fill="#111">Ifnar1<tspan font-style="normal" font-size="23.1" dy="-11.2">-/-</tspan></text>
<text x="0" y="1410.5" font-size="53" font-weight="bold">f</text>
<line x1="783" y1="1515.4" x2="783" y2="1832.9" stroke="#000" stroke-width="3" />
<line x1="769.7" y1="1516.4" x2="783" y2="1516.4" stroke="#000" stroke-width="3" />
<text x="765.7" y="1527.96" font-size="32.3" text-anchor="end" fill="#111" transform="translate(0 1516.4) scale(1 1.09) translate(0 -1516.4)">100</text>
<line x1="769.7" y1="1580.5" x2="783" y2="1580.5" stroke="#000" stroke-width="3" />
<text x="765.7" y="1592.06" font-size="32.3" text-anchor="end" fill="#111" transform="translate(0 1580.5) scale(1 1.09) translate(0 -1580.5)">80</text>
<line x1="769.7" y1="1643.3" x2="783" y2="1643.3" stroke="#000" stroke-width="3" />
<text x="765.7" y="1654.86" font-size="32.3" text-anchor="end" fill="#111" transform="translate(0 1643.3) scale(1 1.09) translate(0 -1643.3)">60</text>
<line x1="769.7" y1="1705.8" x2="783" y2="1705.8" stroke="#000" stroke-width="3" />
<text x="765.7" y="1717.36" font-size="32.3" text-anchor="end" fill="#111" transform="translate(0 1705.8) scale(1 1.09) translate(0 -1705.8)">40</text>
<line x1="769.7" y1="1768.2" x2="783" y2="1768.2" stroke="#000" stroke-width="3" />
<text x="765.7" y="1779.76" font-size="32.3" text-anchor="end" fill="#111" transform="translate(0 1768.2) scale(1 1.09) translate(0 -1768.2)">20</text>
<line x1="769.7" y1="1831.5" x2="783" y2="1831.5" stroke="#000" stroke-width="3" />
<text x="765.7" y="1843.06" font-size="32.3" text-anchor="end" fill="#111" transform="translate(0 1831.5) scale(1 1.09) translate(0 -1831.5)">0</text>
<line x1="769.7" y1="1831.5" x2="1099.3" y2="1831.5" stroke="#000" stroke-width="3" />
<line x1="813.2" y1="1831.5" x2="813.2" y2="1844" stroke="#000" stroke-width="3" />
<line x1="857.6" y1="1831.5" x2="857.6" y2="1844" stroke="#000" stroke-width="3" />
<line x1="902.7" y1="1831.5" x2="902.7" y2="1844" stroke="#000" stroke-width="3" />
<line x1="977.6" y1="1831.5" x2="977.6" y2="1844" stroke="#000" stroke-width="3" />
<line x1="1022.8" y1="1831.5" x2="1022.8" y2="1844" stroke="#000" stroke-width="3" />
<line x1="1067.9" y1="1831.5" x2="1067.9" y2="1844" stroke="#000" stroke-width="3" />
<line x1="813.85" y1="1696.5" x2="813.85" y2="1752.9" stroke="#000" stroke-width="2.6" />
<line x1="813.85" y1="1746.9" x2="813.85" y2="1689.6" stroke="#000" stroke-width="2.6" />
<line x1="807.85" y1="1752.9" x2="819.85" y2="1752.9" stroke="#000" stroke-width="2.6" />
<line x1="807.85" y1="1689.6" x2="819.85" y2="1689.6" stroke="#000" stroke-width="2.6" />
<rect x="800.4" y="1696.5" width="26.9" height="50.4" fill="#fff" stroke="#000" stroke-width="2.6" />
<line x1="800.4" y1="1714.6" x2="827.3" y2="1714.6" stroke="#000" stroke-width="2.6" />
<circle cx="814" cy="1689.6" r="6.9" fill="#5850f5" stroke="#000" stroke-width="2.6" />
<circle cx="809.2" cy="1700.5" r="6.9" fill="#5850f5" stroke="#000" stroke-width="2.6" />
<circle cx="818.5" cy="1715.8" r="6.9" fill="#5850f5" stroke="#000" stroke-width="2.6" />
<circle cx="809.2" cy="1742.8" r="6.9" fill="#5850f5" stroke="#000" stroke-width="2.6" />
<circle cx="818.5" cy="1752.9" r="6.9" fill="#5850f5" stroke="#000" stroke-width="2.6" />
<line x1="858.6" y1="1627.2" x2="858.6" y2="1650.2" stroke="#000" stroke-width="2.6" />
<line x1="858.6" y1="1642.1" x2="858.6" y2="1620.7" stroke="#000" stroke-width="2.6" />
<line x1="852.6" y1="1650.2" x2="864.6" y2="1650.2" stroke="#000" stroke-width="2.6" />
<line x1="852.6" y1="1620.7" x2="864.6" y2="1620.7" stroke="#000" stroke-width="2.6" />
<rect x="844.7" y="1627.2" width="27.8" height="14.9" fill="#fff" stroke="#000" stroke-width="2.6" />
<line x1="844.7" y1="1634" x2="872.5" y2="1634" stroke="#000" stroke-width="2.6" />
<circle cx="859.6" cy="1620.7" r="6.9" fill="#5850f5" stroke="#000" stroke-width="2.6" />
<circle cx="853.5" cy="1628" r="6.9" fill="#5850f5" stroke="#000" stroke-width="2.6" />
<circle cx="857.6" cy="1632" r="6.9" fill="#5850f5" stroke="#000" stroke-width="2.6" />
<circle cx="863.6" cy="1650.2" r="6.9" fill="#5850f5" stroke="#000" stroke-width="2.6" />
<circle cx="862" cy="1626" r="6.9" fill="#5850f5" stroke="#000" stroke-width="2.6" />
<line x1="903.5" y1="1668.3" x2="903.5" y2="1711.8" stroke="#000" stroke-width="2.6" />
<line x1="903.5" y1="1704.6" x2="903.5" y2="1648.9" stroke="#000" stroke-width="2.6" />
<line x1="897.5" y1="1711.8" x2="909.5" y2="1711.8" stroke="#000" stroke-width="2.6" />
<line x1="897.5" y1="1648.9" x2="909.5" y2="1648.9" stroke="#000" stroke-width="2.6" />
<rect x="889.8" y="1668.3" width="27.4" height="36.3" fill="#fff" stroke="#000" stroke-width="2.6" />
<line x1="889.8" y1="1692.5" x2="917.2" y2="1692.5" stroke="#000" stroke-width="2.6" />
<circle cx="903.9" cy="1648.9" r="6.9" fill="#5850f5" stroke="#000" stroke-width="2.6" />
<circle cx="903.9" cy="1683.6" r="6.9" fill="#5850f5" stroke="#000" stroke-width="2.6" />
<circle cx="897.9" cy="1694.5" r="6.9" fill="#5850f5" stroke="#000" stroke-width="2.6" />
<circle cx="903.9" cy="1698.5" r="6.9" fill="#5850f5" stroke="#000" stroke-width="2.6" />
<circle cx="907.9" cy="1711.8" r="6.9" fill="#5850f5" stroke="#000" stroke-width="2.6" />
<line x1="977.8" y1="1567.6" x2="977.8" y2="1605" stroke="#000" stroke-width="2.6" />
<line x1="977.8" y1="1597.8" x2="977.8" y2="1565.6" stroke="#000" stroke-width="2.6" />
<line x1="971.8" y1="1605" x2="983.8" y2="1605" stroke="#000" stroke-width="2.6" />
<line x1="971.8" y1="1565.6" x2="983.8" y2="1565.6" stroke="#000" stroke-width="2.6" />
<rect x="964.3" y="1567.6" width="27" height="30.2" fill="#fff" stroke="#000" stroke-width="2.6" />
<line x1="964.3" y1="1580" x2="991.3" y2="1580" stroke="#000" stroke-width="2.6" />
<circle cx="974.4" cy="1565.6" r="6.9" fill="#f88484" stroke="#000" stroke-width="2.6" />
<circle cx="980.5" cy="1567.6" r="6.9" fill="#f88484" stroke="#000" stroke-width="2.6" />
<circle cx="974.4" cy="1589.7" r="6.9" fill="#f88484" stroke="#000" stroke-width="2.6" />
<circle cx="978.4" cy="1593.8" r="6.9" fill="#f88484" stroke="#000" stroke-width="2.6" />
<circle cx="982.5" cy="1605" r="6.9" fill="#f88484" stroke="#000" stroke-width="2.6" />
<line x1="1023.2" y1="1558.7" x2="1023.2" y2="1617.9" stroke="#000" stroke-width="2.6" />
<line x1="1023.2" y1="1609.9" x2="1023.2" y2="1554.7" stroke="#000" stroke-width="2.6" />
<line x1="1017.2" y1="1617.9" x2="1029.2" y2="1617.9" stroke="#000" stroke-width="2.6" />
<line x1="1017.2" y1="1554.7" x2="1029.2" y2="1554.7" stroke="#000" stroke-width="2.6" />
<rect x="1009.5" y="1558.7" width="27.4" height="51.2" fill="#fff" stroke="#000" stroke-width="2.6" />
<line x1="1009.5" y1="1573.6" x2="1036.9" y2="1573.6" stroke="#000" stroke-width="2.6" />
<circle cx="1016.7" cy="1554.7" r="6.9" fill="#f88484" stroke="#000" stroke-width="2.6" />
<circle cx="1022" cy="1558.7" r="6.9" fill="#f88484" stroke="#000" stroke-width="2.6" />
<circle cx="1027.6" cy="1573.6" r="6.9" fill="#f88484" stroke="#000" stroke-width="2.6" />
<circle cx="1020.7" cy="1605.8" r="6.9" fill="#f88484" stroke="#000" stroke-width="2.6" />
<circle cx="1024.8" cy="1617.9" r="6.9" fill="#f88484" stroke="#000" stroke-width="2.6" />
<line x1="1067.7" y1="1575.6" x2="1067.7" y2="1625.2" stroke="#000" stroke-width="2.6" />
<line x1="1067.7" y1="1609.9" x2="1067.7" y2="1571.6" stroke="#000" stroke-width="2.6" />
<line x1="1061.7" y1="1625.2" x2="1073.7" y2="1625.2" stroke="#000" stroke-width="2.6" />
<line x1="1061.7" y1="1571.6" x2="1073.7" y2="1571.6" stroke="#000" stroke-width="2.6" />
<rect x="1054.2" y="1575.6" width="27" height="34.3" fill="#fff" stroke="#000" stroke-width="2.6" />
<line x1="1054.2" y1="1580" x2="1081.2" y2="1580" stroke="#000" stroke-width="2.6" />
<circle cx="1062.2" cy="1571.6" r="6.9" fill="#f88484" stroke="#000" stroke-width="2.6" />
<circle cx="1073.1" cy="1573.6" r="6.9" fill="#f88484" stroke="#000" stroke-width="2.6" />
<circle cx="1063" cy="1593" r="6.9" fill="#f88484" stroke="#000" stroke-width="2.6" />
<circle cx="1073.1" cy="1599" r="6.9" fill="#f88484" stroke="#000" stroke-width="2.6" />
<circle cx="1069.1" cy="1625.2" r="6.9" fill="#f88484" stroke="#000" stroke-width="2.6" />
<polyline points="807.5,1550.6 807.5,1535.5 972.7,1535.5 972.7,1550.6" stroke="#000" stroke-width="2.5" fill="none" stroke-linejoin="miter" stroke-linecap="butt"/>
<polyline points="977.7,1550.6 977.7,1535.5 1025.3,1535.5 1025.3,1550.6" stroke="#000" stroke-width="2.5" fill="none" stroke-linejoin="miter" stroke-linecap="butt"/>
<polyline points="1031.9,1550.6 1031.9,1535.5 1080.4,1535.5 1080.4,1550.6" stroke="#000" stroke-width="2.5" fill="none" stroke-linejoin="miter" stroke-linecap="butt"/>
<polyline points="808,1608.4 808,1593.3 854.2,1593.3 854.2,1608.4" stroke="#000" stroke-width="2.5" fill="none" stroke-linejoin="miter" stroke-linecap="butt"/>
<polyline points="861.3,1608.4 861.3,1593.3 908.8,1593.3 908.8,1608.4" stroke="#000" stroke-width="2.5" fill="none" stroke-linejoin="miter" stroke-linecap="butt"/>
<text x="886.6" y="1539.3" font-size="35.5" text-anchor="middle" fill="#111" stroke="#111" stroke-width="0.5">***</text>
<text x="999.9" y="1525" font-size="25.5" text-anchor="middle" fill="#111">ns</text>
<text x="1057" y="1525" font-size="25.5" text-anchor="middle" fill="#111">ns</text>
<text x="831.5" y="1596.2" font-size="35.5" text-anchor="middle" fill="#111" stroke="#111" stroke-width="0.5">**</text>
<text x="884" y="1596.2" font-size="35.5" text-anchor="middle" fill="#111" stroke="#111" stroke-width="0.5">**</text>
<text x="693" y="1669.3" font-size="38" text-anchor="middle" fill="#111" transform="rotate(-90 693 1669.3)">Ki-67<tspan font-size="24" dy="-14">+</tspan><tspan dy="14"> ILC2 (%)</tspan></text>
<text x="823.7" y="1874.5" font-size="32.5" text-anchor="end" fill="#111" transform="rotate(-45 823.7 1874.5)">Con</text>
<text x="868.1" y="1874.5" font-size="32.5" text-anchor="end" fill="#111" transform="rotate(-45 868.1 1874.5)">Abx</text>
<text x="913.2" y="1874.5" font-size="32.5" text-anchor="end" fill="#111" transform="rotate(-45 913.2 1874.5)">Abx+IFNβ</text>
<text x="988.1" y="1874.5" font-size="32.5" text-anchor="end" fill="#111" transform="rotate(-45 988.1 1874.5)">Con</text>
<text x="1033.3" y="1874.5" font-size="32.5" text-anchor="end" fill="#111" transform="rotate(-45 1033.3 1874.5)">Abx</text>
<text x="1078.4" y="1874.5" font-size="32.5" text-anchor="end" fill="#111" transform="rotate(-45 1078.4 1874.5)">Abx+IFNβ</text>
<circle cx="1136.8" cy="1527.3" r="8.6" fill="#5850f5" stroke="#000" stroke-width="3.3" />
<circle cx="1136.8" cy="1583.7" r="8.6" fill="#f88484" stroke="#000" stroke-width="3.3" />
<text x="1167.5" y="1537.7" font-size="35" fill="#111">WT</text>
<text x="1167.5" y="1596.7" font-size="35" font-style="italic" fill="#111">Ifnar1<tspan font-style="normal" font-size="23.1" dy="-11.2">-/-</tspan></text>
<text x="678" y="1412.5" font-size="53" font-weight="bold">g</text>
<line x1="1451.6" y1="1530.8" x2="1451.6" y2="1848.5" stroke="#000" stroke-width="3" />
<line x1="1438.5" y1="1531.8" x2="1451.6" y2="1531.8" stroke="#000" stroke-width="3" />
<text x="1434.5" y="1543.36" font-size="32.3" text-anchor="end" fill="#111" transform="translate(0 1531.8) scale(1 1.09) translate(0 -1531.8)">100</text>
<line x1="1438.5" y1="1594.5" x2="1451.6" y2="1594.5" stroke="#000" stroke-width="3" />
<text x="1434.5" y="1606.06" font-size="32.3" text-anchor="end" fill="#111" transform="translate(0 1594.5) scale(1 1.09) translate(0 -1594.5)">80</text>
<line x1="1438.5" y1="1658.3" x2="1451.6" y2="1658.3" stroke="#000" stroke-width="3" />
<text x="1434.5" y="1669.86" font-size="32.3" text-anchor="end" fill="#111" transform="translate(0 1658.3) scale(1 1.09) translate(0 -1658.3)">60</text>
<line x1="1438.5" y1="1721.4" x2="1451.6" y2="1721.4" stroke="#000" stroke-width="3" />
<text x="1434.5" y="1732.96" font-size="32.3" text-anchor="end" fill="#111" transform="translate(0 1721.4) scale(1 1.09) translate(0 -1721.4)">40</text>
<line x1="1438.5" y1="1784.4" x2="1451.6" y2="1784.4" stroke="#000" stroke-width="3" />
<text x="1434.5" y="1795.96" font-size="32.3" text-anchor="end" fill="#111" transform="translate(0 1784.4) scale(1 1.09) translate(0 -1784.4)">20</text>
<line x1="1438.5" y1="1847.1" x2="1451.6" y2="1847.1" stroke="#000" stroke-width="3" />
<text x="1434.5" y="1858.66" font-size="32.3" text-anchor="end" fill="#111" transform="translate(0 1847.1) scale(1 1.09) translate(0 -1847.1)">0</text>
<line x1="1438.5" y1="1847.1" x2="1768.1" y2="1847.1" stroke="#000" stroke-width="3" />
<line x1="1479.9" y1="1847.1" x2="1479.9" y2="1859.9" stroke="#000" stroke-width="3" />
<line x1="1526.3" y1="1847.1" x2="1526.3" y2="1859.9" stroke="#000" stroke-width="3" />
<line x1="1570.8" y1="1847.1" x2="1570.8" y2="1859.9" stroke="#000" stroke-width="3" />
<line x1="1645.5" y1="1847.1" x2="1645.5" y2="1859.9" stroke="#000" stroke-width="3" />
<line x1="1691.5" y1="1847.1" x2="1691.5" y2="1859.9" stroke="#000" stroke-width="3" />
<line x1="1736.4" y1="1847.1" x2="1736.4" y2="1859.9" stroke="#000" stroke-width="3" />
<line x1="1480.25" y1="1719.4" x2="1480.25" y2="1747.7" stroke="#000" stroke-width="2.6" />
<line x1="1480.25" y1="1741.5" x2="1480.25" y2="1707.8" stroke="#000" stroke-width="2.6" />
<line x1="1474.25" y1="1747.7" x2="1486.25" y2="1747.7" stroke="#000" stroke-width="2.6" />
<line x1="1474.25" y1="1707.8" x2="1486.25" y2="1707.8" stroke="#000" stroke-width="2.6" />
<rect x="1467.1" y="1719.4" width="26.3" height="22.1" fill="#fff" stroke="#000" stroke-width="2.6" />
<line x1="1467.1" y1="1730" x2="1493.4" y2="1730" stroke="#000" stroke-width="2.6" />
<circle cx="1482.6" cy="1707.8" r="6.9" fill="#5850f5" stroke="#000" stroke-width="2.6" />
<circle cx="1476" cy="1731" r="6.9" fill="#5850f5" stroke="#000" stroke-width="2.6" />
<circle cx="1479.9" cy="1734.9" r="6.9" fill="#5850f5" stroke="#000" stroke-width="2.6" />
<circle cx="1486.5" cy="1747.7" r="6.9" fill="#5850f5" stroke="#000" stroke-width="2.6" />
<circle cx="1482" cy="1740" r="6.9" fill="#5850f5" stroke="#000" stroke-width="2.6" />
<line x1="1526.3" y1="1640.1" x2="1526.3" y2="1671.1" stroke="#000" stroke-width="2.6" />
<line x1="1526.3" y1="1665.3" x2="1526.3" y2="1633.2" stroke="#000" stroke-width="2.6" />
<line x1="1520.3" y1="1671.1" x2="1532.3" y2="1671.1" stroke="#000" stroke-width="2.6" />
<line x1="1520.3" y1="1633.2" x2="1532.3" y2="1633.2" stroke="#000" stroke-width="2.6" />
<rect x="1512.8" y="1640.1" width="27" height="25.2" fill="#fff" stroke="#000" stroke-width="2.6" />
<line x1="1512.8" y1="1652" x2="1539.8" y2="1652" stroke="#000" stroke-width="2.6" />
<circle cx="1524.4" cy="1633.2" r="6.9" fill="#5850f5" stroke="#000" stroke-width="2.6" />
<circle cx="1530.2" cy="1647.1" r="6.9" fill="#5850f5" stroke="#000" stroke-width="2.6" />
<circle cx="1519.7" cy="1663.3" r="6.9" fill="#5850f5" stroke="#000" stroke-width="2.6" />
<circle cx="1532.1" cy="1671.1" r="6.9" fill="#5850f5" stroke="#000" stroke-width="2.6" />
<circle cx="1526" cy="1655" r="6.9" fill="#5850f5" stroke="#000" stroke-width="2.6" />
<line x1="1571.95" y1="1682.7" x2="1571.95" y2="1729.1" stroke="#000" stroke-width="2.6" />
<line x1="1571.95" y1="1719.4" x2="1571.95" y2="1673.8" stroke="#000" stroke-width="2.6" />
<line x1="1565.95" y1="1729.1" x2="1577.95" y2="1729.1" stroke="#000" stroke-width="2.6" />
<line x1="1565.95" y1="1673.8" x2="1577.95" y2="1673.8" stroke="#000" stroke-width="2.6" />
<rect x="1558.4" y="1682.7" width="27.1" height="36.7" fill="#fff" stroke="#000" stroke-width="2.6" />
<line x1="1558.4" y1="1700" x2="1585.5" y2="1700" stroke="#000" stroke-width="2.6" />
<circle cx="1569.6" cy="1673.8" r="6.9" fill="#5850f5" stroke="#000" stroke-width="2.6" />
<circle cx="1574.7" cy="1690.4" r="6.9" fill="#5850f5" stroke="#000" stroke-width="2.6" />
<circle cx="1566.9" cy="1705.1" r="6.9" fill="#5850f5" stroke="#000" stroke-width="2.6" />
<circle cx="1572.7" cy="1715.6" r="6.9" fill="#5850f5" stroke="#000" stroke-width="2.6" />
<circle cx="1576.6" cy="1729.1" r="6.9" fill="#5850f5" stroke="#000" stroke-width="2.6" />
<line x1="1646.25" y1="1631.6" x2="1646.25" y2="1665.3" stroke="#000" stroke-width="2.6" />
<line x1="1646.25" y1="1661.4" x2="1646.25" y2="1620" stroke="#000" stroke-width="2.6" />
<line x1="1640.25" y1="1665.3" x2="1652.25" y2="1665.3" stroke="#000" stroke-width="2.6" />
<line x1="1640.25" y1="1620" x2="1652.25" y2="1620" stroke="#000" stroke-width="2.6" />
<rect x="1632.7" y="1631.6" width="27.1" height="29.8" fill="#fff" stroke="#000" stroke-width="2.6" />
<line x1="1632.7" y1="1645" x2="1659.8" y2="1645" stroke="#000" stroke-width="2.6" />
<circle cx="1645.5" cy="1620" r="6.9" fill="#f88484" stroke="#000" stroke-width="2.6" />
<circle cx="1649" cy="1640.1" r="6.9" fill="#f88484" stroke="#000" stroke-width="2.6" />
<circle cx="1640.4" cy="1651.7" r="6.9" fill="#f88484" stroke="#000" stroke-width="2.6" />
<circle cx="1646.2" cy="1659.5" r="6.9" fill="#f88484" stroke="#000" stroke-width="2.6" />
<circle cx="1651.3" cy="1665.3" r="6.9" fill="#f88484" stroke="#000" stroke-width="2.6" />
<line x1="1691.7" y1="1602.2" x2="1691.7" y2="1642.1" stroke="#000" stroke-width="2.6" />
<line x1="1691.7" y1="1640.1" x2="1691.7" y2="1587.9" stroke="#000" stroke-width="2.6" />
<line x1="1685.7" y1="1642.1" x2="1697.7" y2="1642.1" stroke="#000" stroke-width="2.6" />
<line x1="1685.7" y1="1587.9" x2="1697.7" y2="1587.9" stroke="#000" stroke-width="2.6" />
<rect x="1678" y="1602.2" width="27.4" height="37.9" fill="#fff" stroke="#000" stroke-width="2.6" />
<line x1="1678" y1="1628" x2="1705.4" y2="1628" stroke="#000" stroke-width="2.6" />
<circle cx="1691.5" cy="1587.9" r="6.9" fill="#f88484" stroke="#000" stroke-width="2.6" />
<circle cx="1691.5" cy="1615" r="6.9" fill="#f88484" stroke="#000" stroke-width="2.6" />
<circle cx="1684.9" cy="1634.3" r="6.9" fill="#f88484" stroke="#000" stroke-width="2.6" />
<circle cx="1696.5" cy="1642.1" r="6.9" fill="#f88484" stroke="#000" stroke-width="2.6" />
<circle cx="1690" cy="1638" r="6.9" fill="#f88484" stroke="#000" stroke-width="2.6" />
<line x1="1736.75" y1="1609.2" x2="1736.75" y2="1659.5" stroke="#000" stroke-width="2.6" />
<line x1="1736.75" y1="1653.7" x2="1736.75" y2="1594.5" stroke="#000" stroke-width="2.6" />
<line x1="1730.75" y1="1659.5" x2="1742.75" y2="1659.5" stroke="#000" stroke-width="2.6" />
<line x1="1730.75" y1="1594.5" x2="1742.75" y2="1594.5" stroke="#000" stroke-width="2.6" />
<rect x="1722.8" y="1609.2" width="27.9" height="44.5" fill="#fff" stroke="#000" stroke-width="2.6" />
<line x1="1722.8" y1="1640" x2="1750.7" y2="1640" stroke="#000" stroke-width="2.6" />
<circle cx="1737.1" cy="1594.5" r="6.9" fill="#f88484" stroke="#000" stroke-width="2.6" />
<circle cx="1737.1" cy="1620.8" r="6.9" fill="#f88484" stroke="#000" stroke-width="2.6" />
<circle cx="1732.5" cy="1647.1" r="6.9" fill="#f88484" stroke="#000" stroke-width="2.6" />
<circle cx="1738.3" cy="1653.7" r="6.9" fill="#f88484" stroke="#000" stroke-width="2.6" />
<circle cx="1742.2" cy="1659.5" r="6.9" fill="#f88484" stroke="#000" stroke-width="2.6" />
<polyline points="1475.6,1565.6 1475.6,1550.5 1641.6,1550.5 1641.6,1565.6" stroke="#000" stroke-width="2.5" fill="none" stroke-linejoin="miter" stroke-linecap="butt"/>
<polyline points="1646.6,1566.9 1646.6,1550.5 1694.2,1550.5 1694.2,1566.9" stroke="#000" stroke-width="2.5" fill="none" stroke-linejoin="miter" stroke-linecap="butt"/>
<polyline points="1700.8,1565.6 1700.8,1550.5 1748.3,1550.5 1748.3,1565.6" stroke="#000" stroke-width="2.5" fill="none" stroke-linejoin="miter" stroke-linecap="butt"/>
<polyline points="1476,1624.3 1476,1608.8 1523.1,1608.8 1523.1,1624.3" stroke="#000" stroke-width="2.5" fill="none" stroke-linejoin="miter" stroke-linecap="butt"/>
<polyline points="1530.2,1623.4 1530.2,1608.8 1577.3,1608.8 1577.3,1623.4" stroke="#000" stroke-width="2.5" fill="none" stroke-linejoin="miter" stroke-linecap="butt"/>
<text x="1562.2" y="1554.9" font-size="36" text-anchor="middle" fill="#111" stroke="#111" stroke-width="0.5">**</text>
<text x="1668.9" y="1539.9" font-size="26" text-anchor="middle" fill="#111">ns</text>
<text x="1725.6" y="1539.9" font-size="26" text-anchor="middle" fill="#111">ns</text>
<text x="1499.8" y="1611.8" font-size="36" text-anchor="middle" fill="#111" stroke="#111" stroke-width="0.5">**</text>
<text x="1552.7" y="1611.8" font-size="36" text-anchor="middle" fill="#111" stroke="#111" stroke-width="0.5">**</text>
<text x="1358.5" y="1684.6" font-size="39.3" text-anchor="middle" fill="#111" transform="rotate(-90 1358.5 1684.6)">IL-5<tspan font-size="24" dy="-14">+</tspan><tspan dy="14"> IL-13</tspan><tspan font-size="24" dy="-14">+</tspan><tspan dy="14"> ILC2 (%)</tspan></text>
<text x="1490.4" y="1890.1" font-size="32.5" text-anchor="end" fill="#111" transform="rotate(-45 1490.4 1890.1)">Con</text>
<text x="1536.8" y="1890.1" font-size="32.5" text-anchor="end" fill="#111" transform="rotate(-45 1536.8 1890.1)">Abx</text>
<text x="1581.3" y="1890.1" font-size="32.5" text-anchor="end" fill="#111" transform="rotate(-45 1581.3 1890.1)">Abx+IFNβ</text>
<text x="1656" y="1890.1" font-size="32.5" text-anchor="end" fill="#111" transform="rotate(-45 1656 1890.1)">Con</text>
<text x="1702" y="1890.1" font-size="32.5" text-anchor="end" fill="#111" transform="rotate(-45 1702 1890.1)">Abx</text>
<text x="1746.9" y="1890.1" font-size="32.5" text-anchor="end" fill="#111" transform="rotate(-45 1746.9 1890.1)">Abx+IFNβ</text>
<circle cx="1812.6" cy="1537.6" r="8.6" fill="#5850f5" stroke="#000" stroke-width="3.3" />
<circle cx="1812.6" cy="1594.5" r="8.6" fill="#f88484" stroke="#000" stroke-width="3.3" />
<text x="1843.5" y="1548" font-size="35" fill="#111">WT</text>
<text x="1843.5" y="1607.5" font-size="35" font-style="italic" fill="#111">Ifnar1<tspan font-style="normal" font-size="23.1" dy="-11.2">-/-</tspan></text>
<text x="1330" y="1412" font-size="53" font-weight="bold">h</text>
<line x1="114.5" y1="2128.4" x2="114.5" y2="2402.9" stroke="#000" stroke-width="3" />
<line x1="103.5" y1="2129.4" x2="114.5" y2="2129.4" stroke="#000" stroke-width="3" />
<text x="99.5" y="2139.42" font-size="28" text-anchor="end" fill="#111" transform="translate(0 2129.4) scale(1 1.03) translate(0 -2129.4)">150</text>
<line x1="103.5" y1="2220" x2="114.5" y2="2220" stroke="#000" stroke-width="3" />
<text x="99.5" y="2230.02" font-size="28" text-anchor="end" fill="#111" transform="translate(0 2220) scale(1 1.03) translate(0 -2220)">100</text>
<line x1="103.5" y1="2310.9" x2="114.5" y2="2310.9" stroke="#000" stroke-width="3" />
<text x="99.5" y="2320.92" font-size="28" text-anchor="end" fill="#111" transform="translate(0 2310.9) scale(1 1.03) translate(0 -2310.9)">50</text>
<line x1="103.5" y1="2401.5" x2="114.5" y2="2401.5" stroke="#000" stroke-width="3" />
<text x="99.5" y="2411.52" font-size="28" text-anchor="end" fill="#111" transform="translate(0 2401.5) scale(1 1.03) translate(0 -2401.5)">0</text>
<line x1="103.5" y1="2401.5" x2="387.5" y2="2401.5" stroke="#000" stroke-width="2.8" />
<line x1="140" y1="2401.5" x2="140" y2="2413" stroke="#000" stroke-width="2.8" />
<line x1="178.5" y1="2401.5" x2="178.5" y2="2413" stroke="#000" stroke-width="2.8" />
<line x1="217.3" y1="2401.5" x2="217.3" y2="2413" stroke="#000" stroke-width="2.8" />
<line x1="282" y1="2401.5" x2="282" y2="2413" stroke="#000" stroke-width="2.8" />
<line x1="321.2" y1="2401.5" x2="321.2" y2="2413" stroke="#000" stroke-width="2.8" />
<line x1="360" y1="2401.5" x2="360" y2="2413" stroke="#000" stroke-width="2.8" />
<line x1="129.4" y1="2326.8" x2="146" y2="2326.8" stroke="#000" stroke-width="2.6" />
<line x1="137.7" y1="2322" x2="137.7" y2="2331" stroke="#000" stroke-width="1.8" />
<line x1="132.7" y1="2322" x2="142.7" y2="2322" stroke="#000" stroke-width="1.8" />
<line x1="132.7" y1="2331" x2="142.7" y2="2331" stroke="#000" stroke-width="1.8" />
<circle cx="136.7" cy="2306.9" r="6.75" fill="none" stroke="#5548d8" stroke-width="2.5" />
<circle cx="141" cy="2316.2" r="6.75" fill="none" stroke="#5548d8" stroke-width="2.5" />
<circle cx="146" cy="2326.8" r="6.75" fill="none" stroke="#5548d8" stroke-width="2.5" />
<circle cx="138.7" cy="2335.1" r="6.75" fill="none" stroke="#5548d8" stroke-width="2.5" />
<circle cx="143.3" cy="2351" r="6.75" fill="none" stroke="#5548d8" stroke-width="2.5" />
<line x1="167.6" y1="2201.7" x2="191.8" y2="2201.7" stroke="#000" stroke-width="2.6" />
<line x1="179.7" y1="2189.1" x2="179.7" y2="2218.3" stroke="#000" stroke-width="1.8" />
<line x1="174.7" y1="2189.1" x2="184.7" y2="2189.1" stroke="#000" stroke-width="1.8" />
<line x1="174.7" y1="2218.3" x2="184.7" y2="2218.3" stroke="#000" stroke-width="1.8" />
<circle cx="179.2" cy="2160.9" r="6.75" fill="none" stroke="#5548d8" stroke-width="2.5" />
<circle cx="173.2" cy="2181.5" r="6.75" fill="none" stroke="#5548d8" stroke-width="2.5" />
<circle cx="184.1" cy="2188.5" r="6.75" fill="none" stroke="#5548d8" stroke-width="2.5" />
<circle cx="173.2" cy="2235.6" r="6.75" fill="none" stroke="#5548d8" stroke-width="2.5" />
<circle cx="184.1" cy="2244.9" r="6.75" fill="none" stroke="#5548d8" stroke-width="2.5" />
<line x1="205.7" y1="2266.1" x2="230.6" y2="2266.1" stroke="#000" stroke-width="2.6" />
<line x1="218.15" y1="2256.1" x2="218.15" y2="2276" stroke="#000" stroke-width="1.8" />
<line x1="213.15" y1="2256.1" x2="223.15" y2="2256.1" stroke="#000" stroke-width="1.8" />
<line x1="213.15" y1="2276" x2="223.15" y2="2276" stroke="#000" stroke-width="1.8" />
<circle cx="219" cy="2242.2" r="6.75" fill="none" stroke="#5548d8" stroke-width="2.5" />
<circle cx="214" cy="2249.5" r="6.75" fill="none" stroke="#5548d8" stroke-width="2.5" />
<circle cx="219" cy="2260.5" r="6.75" fill="none" stroke="#5548d8" stroke-width="2.5" />
<circle cx="224" cy="2269.4" r="6.75" fill="none" stroke="#5548d8" stroke-width="2.5" />
<circle cx="218.3" cy="2301.9" r="6.75" fill="none" stroke="#5548d8" stroke-width="2.5" />
<line x1="269.4" y1="2228.9" x2="295.3" y2="2228.9" stroke="#000" stroke-width="2.6" />
<line x1="282.35" y1="2216.3" x2="282.35" y2="2243.9" stroke="#000" stroke-width="1.8" />
<line x1="277.35" y1="2216.3" x2="287.35" y2="2216.3" stroke="#000" stroke-width="1.8" />
<line x1="277.35" y1="2243.9" x2="287.35" y2="2243.9" stroke="#000" stroke-width="1.8" />
<circle cx="278" cy="2191.8" r="6.75" fill="none" stroke="#e68282" stroke-width="2.5" />
<circle cx="288" cy="2206.4" r="6.75" fill="none" stroke="#e68282" stroke-width="2.5" />
<circle cx="282.7" cy="2236.2" r="6.75" fill="none" stroke="#e68282" stroke-width="2.5" />
<circle cx="278" cy="2247.2" r="6.75" fill="none" stroke="#e68282" stroke-width="2.5" />
<circle cx="287" cy="2268.1" r="6.75" fill="none" stroke="#e68282" stroke-width="2.5" />
<line x1="309.2" y1="2224" x2="333.4" y2="2224" stroke="#000" stroke-width="2.6" />
<line x1="321.3" y1="2211.3" x2="321.3" y2="2236.2" stroke="#000" stroke-width="1.8" />
<line x1="316.3" y1="2211.3" x2="326.3" y2="2211.3" stroke="#000" stroke-width="1.8" />
<line x1="316.3" y1="2236.2" x2="326.3" y2="2236.2" stroke="#000" stroke-width="1.8" />
<circle cx="317.8" cy="2189.8" r="6.75" fill="none" stroke="#e68282" stroke-width="2.5" />
<circle cx="326.8" cy="2204" r="6.75" fill="none" stroke="#e68282" stroke-width="2.5" />
<circle cx="315.2" cy="2228.9" r="6.75" fill="none" stroke="#e68282" stroke-width="2.5" />
<circle cx="326.8" cy="2236.2" r="6.75" fill="none" stroke="#e68282" stroke-width="2.5" />
<circle cx="321.2" cy="2262.1" r="6.75" fill="none" stroke="#e68282" stroke-width="2.5" />
<line x1="347.7" y1="2234.9" x2="372.3" y2="2234.9" stroke="#000" stroke-width="2.6" />
<line x1="360" y1="2228.9" x2="360" y2="2244.9" stroke="#000" stroke-width="1.8" />
<line x1="355" y1="2228.9" x2="365" y2="2228.9" stroke="#000" stroke-width="1.8" />
<line x1="355" y1="2244.9" x2="365" y2="2244.9" stroke="#000" stroke-width="1.8" />
<circle cx="360" cy="2206.4" r="6.75" fill="none" stroke="#e68282" stroke-width="2.5" />
<circle cx="355.7" cy="2228.3" r="6.75" fill="none" stroke="#e68282" stroke-width="2.5" />
<circle cx="365" cy="2232.3" r="6.75" fill="none" stroke="#e68282" stroke-width="2.5" />
<circle cx="355.7" cy="2244.9" r="6.75" fill="none" stroke="#e68282" stroke-width="2.5" />
<circle cx="364.3" cy="2262.1" r="6.75" fill="none" stroke="#e68282" stroke-width="2.5" />
<polyline points="135.4,2121.1 135.4,2106.8 278.7,2106.8 278.7,2121.1" stroke="#000" stroke-width="2.3" fill="none" stroke-linejoin="miter" stroke-linecap="butt"/>
<polyline points="282.7,2120.3 282.7,2106.8 322.5,2106.8 322.5,2120.3" stroke="#000" stroke-width="2.3" fill="none" stroke-linejoin="miter" stroke-linecap="butt"/>
<polyline points="329.1,2120.3 329.1,2106.8 370,2106.8 370,2120.3" stroke="#000" stroke-width="2.3" fill="none" stroke-linejoin="miter" stroke-linecap="butt"/>
<polyline points="135.4,2148.6 135.4,2134.4 175.8,2134.4 175.8,2148.6" stroke="#000" stroke-width="2.3" fill="none" stroke-linejoin="miter" stroke-linecap="butt"/>
<polyline points="182.5,2148.6 182.5,2134.4 223,2134.4 223,2148.6" stroke="#000" stroke-width="2.3" fill="none" stroke-linejoin="miter" stroke-linecap="butt"/>
<text x="209.4" y="2111" font-size="31" text-anchor="middle" fill="#111" stroke="#111" stroke-width="0.5">***</text>
<text x="301.6" y="2102.8" font-size="21.7" text-anchor="middle" fill="#111">ns</text>
<text x="350.7" y="2102.8" font-size="21.7" text-anchor="middle" fill="#111">ns</text>
<text x="156.6" y="2138.5" font-size="30" text-anchor="middle" fill="#111" stroke="#111" stroke-width="0.5">**</text>
<text x="201.7" y="2138.5" font-size="30" text-anchor="middle" fill="#111" stroke="#111" stroke-width="0.5">**</text>
<text x="36" y="2262" font-size="33" text-anchor="middle" fill="#111" transform="rotate(-90 36 2262)">IL-5 (pg/mL)</text>
<text x="150" y="2439" font-size="28" text-anchor="end" fill="#111" transform="rotate(-45 150 2439)">Con</text>
<text x="188.5" y="2439" font-size="28" text-anchor="end" fill="#111" transform="rotate(-45 188.5 2439)">Abx</text>
<text x="227.3" y="2439" font-size="28" text-anchor="end" fill="#111" transform="rotate(-45 227.3 2439)">Abx+IFNβ</text>
<text x="292" y="2439" font-size="28" text-anchor="end" fill="#111" transform="rotate(-45 292 2439)">Con</text>
<text x="331.2" y="2439" font-size="28" text-anchor="end" fill="#111" transform="rotate(-45 331.2 2439)">Abx</text>
<text x="370" y="2439" font-size="28" text-anchor="end" fill="#111" transform="rotate(-45 370 2439)">Abx+IFNβ</text>
<text x="2" y="2043" font-size="53" font-weight="bold">i</text>
<line x1="544.1" y1="2127.6" x2="544.1" y2="2401.6" stroke="#000" stroke-width="3" />
<line x1="531.6" y1="2128.6" x2="544.1" y2="2128.6" stroke="#000" stroke-width="3" />
<text x="529.1" y="2138.62" font-size="28" text-anchor="end" fill="#111" transform="translate(0 2128.6) scale(1 1.03) translate(0 -2128.6)">150</text>
<line x1="531.6" y1="2219" x2="544.1" y2="2219" stroke="#000" stroke-width="3" />
<text x="529.1" y="2229.02" font-size="28" text-anchor="end" fill="#111" transform="translate(0 2219) scale(1 1.03) translate(0 -2219)">100</text>
<line x1="531.6" y1="2309.4" x2="544.1" y2="2309.4" stroke="#000" stroke-width="3" />
<text x="529.1" y="2319.42" font-size="28" text-anchor="end" fill="#111" transform="translate(0 2309.4) scale(1 1.03) translate(0 -2309.4)">50</text>
<line x1="531.6" y1="2400.2" x2="544.1" y2="2400.2" stroke="#000" stroke-width="3" />
<text x="529.1" y="2410.22" font-size="28" text-anchor="end" fill="#111" transform="translate(0 2400.2) scale(1 1.03) translate(0 -2400.2)">0</text>
<line x1="531.6" y1="2400.2" x2="816.6" y2="2400.2" stroke="#000" stroke-width="2.8" />
<line x1="570.2" y1="2400.2" x2="570.2" y2="2411.9" stroke="#000" stroke-width="2.8" />
<line x1="608.3" y1="2400.2" x2="608.3" y2="2411.9" stroke="#000" stroke-width="2.8" />
<line x1="646.5" y1="2400.2" x2="646.5" y2="2411.9" stroke="#000" stroke-width="2.8" />
<line x1="712" y1="2400.2" x2="712" y2="2411.9" stroke="#000" stroke-width="2.8" />
<line x1="750.2" y1="2400.2" x2="750.2" y2="2411.9" stroke="#000" stroke-width="2.8" />
<line x1="790" y1="2400.2" x2="790" y2="2411.9" stroke="#000" stroke-width="2.8" />
<line x1="556.5" y1="2343.4" x2="582.6" y2="2343.4" stroke="#000" stroke-width="2.6" />
<line x1="569.55" y1="2336" x2="569.55" y2="2350" stroke="#000" stroke-width="1.8" />
<line x1="564.55" y1="2336" x2="574.55" y2="2336" stroke="#000" stroke-width="1.8" />
<line x1="564.55" y1="2350" x2="574.55" y2="2350" stroke="#000" stroke-width="1.8" />
<circle cx="564.8" cy="2328.5" r="6.75" fill="none" stroke="#5548d8" stroke-width="2.5" />
<circle cx="573.1" cy="2331.8" r="6.75" fill="none" stroke="#5548d8" stroke-width="2.5" />
<circle cx="575.2" cy="2335.1" r="6.75" fill="none" stroke="#5548d8" stroke-width="2.5" />
<circle cx="568.9" cy="2355.9" r="6.75" fill="none" stroke="#5548d8" stroke-width="2.5" />
<circle cx="573.1" cy="2364.2" r="6.75" fill="none" stroke="#5548d8" stroke-width="2.5" />
<line x1="597" y1="2248" x2="621" y2="2248" stroke="#000" stroke-width="2.6" />
<line x1="609" y1="2240" x2="609" y2="2256" stroke="#000" stroke-width="1.8" />
<line x1="604" y1="2240" x2="614" y2="2240" stroke="#000" stroke-width="1.8" />
<line x1="604" y1="2256" x2="614" y2="2256" stroke="#000" stroke-width="1.8" />
<circle cx="609.2" cy="2226" r="6.75" fill="none" stroke="#5548d8" stroke-width="2.5" />
<circle cx="603.4" cy="2245.5" r="6.75" fill="none" stroke="#5548d8" stroke-width="2.5" />
<circle cx="614.6" cy="2248.9" r="6.75" fill="none" stroke="#5548d8" stroke-width="2.5" />
<circle cx="604.2" cy="2252.2" r="6.75" fill="none" stroke="#5548d8" stroke-width="2.5" />
<circle cx="613.3" cy="2270.4" r="6.75" fill="none" stroke="#5548d8" stroke-width="2.5" />
<line x1="635.3" y1="2300.7" x2="660.2" y2="2300.7" stroke="#000" stroke-width="2.6" />
<line x1="647.75" y1="2294" x2="647.75" y2="2307" stroke="#000" stroke-width="1.8" />
<line x1="642.75" y1="2294" x2="652.75" y2="2294" stroke="#000" stroke-width="1.8" />
<line x1="642.75" y1="2307" x2="652.75" y2="2307" stroke="#000" stroke-width="1.8" />
<circle cx="645.7" cy="2287" r="6.75" fill="none" stroke="#5548d8" stroke-width="2.5" />
<circle cx="651.9" cy="2288.3" r="6.75" fill="none" stroke="#5548d8" stroke-width="2.5" />
<circle cx="643.6" cy="2306.1" r="6.75" fill="none" stroke="#5548d8" stroke-width="2.5" />
<circle cx="653.1" cy="2313.1" r="6.75" fill="none" stroke="#5548d8" stroke-width="2.5" />
<circle cx="647" cy="2311" r="6.75" fill="none" stroke="#5548d8" stroke-width="2.5" />
<line x1="698.8" y1="2262.5" x2="725.3" y2="2262.5" stroke="#000" stroke-width="2.6" />
<line x1="712.05" y1="2256" x2="712.05" y2="2269" stroke="#000" stroke-width="1.8" />
<line x1="707.05" y1="2256" x2="717.05" y2="2256" stroke="#000" stroke-width="1.8" />
<line x1="707.05" y1="2269" x2="717.05" y2="2269" stroke="#000" stroke-width="1.8" />
<circle cx="710" cy="2234.3" r="6.75" fill="none" stroke="#e68282" stroke-width="2.5" />
<circle cx="714.1" cy="2252.2" r="6.75" fill="none" stroke="#e68282" stroke-width="2.5" />
<circle cx="707.1" cy="2269.6" r="6.75" fill="none" stroke="#e68282" stroke-width="2.5" />
<circle cx="712" cy="2275.8" r="6.75" fill="none" stroke="#e68282" stroke-width="2.5" />
<circle cx="716.2" cy="2281.2" r="6.75" fill="none" stroke="#e68282" stroke-width="2.5" />
<line x1="737.8" y1="2253" x2="763.9" y2="2253" stroke="#000" stroke-width="2.6" />
<line x1="750.85" y1="2241.4" x2="750.85" y2="2265.4" stroke="#000" stroke-width="1.8" />
<line x1="745.85" y1="2241.4" x2="755.85" y2="2241.4" stroke="#000" stroke-width="1.8" />
<line x1="745.85" y1="2265.4" x2="755.85" y2="2265.4" stroke="#000" stroke-width="1.8" />
<circle cx="746" cy="2223.1" r="6.75" fill="none" stroke="#e68282" stroke-width="2.5" />
<circle cx="755.6" cy="2230.2" r="6.75" fill="none" stroke="#e68282" stroke-width="2.5" />
<circle cx="750.2" cy="2259.2" r="6.75" fill="none" stroke="#e68282" stroke-width="2.5" />
<circle cx="745.2" cy="2269.6" r="6.75" fill="none" stroke="#e68282" stroke-width="2.5" />
<circle cx="755.6" cy="2281.2" r="6.75" fill="none" stroke="#e68282" stroke-width="2.5" />
<line x1="776.3" y1="2262.1" x2="802.5" y2="2262.1" stroke="#000" stroke-width="2.6" />
<line x1="789.4" y1="2248" x2="789.4" y2="2274.6" stroke="#000" stroke-width="1.8" />
<line x1="784.4" y1="2248" x2="794.4" y2="2248" stroke="#000" stroke-width="1.8" />
<line x1="784.4" y1="2274.6" x2="794.4" y2="2274.6" stroke="#000" stroke-width="1.8" />
<circle cx="784.6" cy="2230.2" r="6.75" fill="none" stroke="#e68282" stroke-width="2.5" />
<circle cx="795" cy="2234.3" r="6.75" fill="none" stroke="#e68282" stroke-width="2.5" />
<circle cx="790" cy="2259.2" r="6.75" fill="none" stroke="#e68282" stroke-width="2.5" />
<circle cx="784.6" cy="2287" r="6.75" fill="none" stroke="#e68282" stroke-width="2.5" />
<circle cx="794.2" cy="2295.3" r="6.75" fill="none" stroke="#e68282" stroke-width="2.5" />
<polyline points="564.8,2118.2 564.8,2107 707.9,2107 707.9,2118.2" stroke="#000" stroke-width="2.3" fill="none" stroke-linejoin="miter" stroke-linecap="butt"/>
<polyline points="712,2118.2 712,2107 752.7,2107 752.7,2118.2" stroke="#000" stroke-width="2.3" fill="none" stroke-linejoin="miter" stroke-linecap="butt"/>
<polyline points="758.9,2118.2 758.9,2107 800,2107 800,2118.2" stroke="#000" stroke-width="2.3" fill="none" stroke-linejoin="miter" stroke-linecap="butt"/>
<polyline points="564.8,2146 564.8,2134 606.3,2134 606.3,2146" stroke="#000" stroke-width="2.3" fill="none" stroke-linejoin="miter" stroke-linecap="butt"/>
<polyline points="611.7,2146 611.7,2134 653.1,2134 653.1,2146" stroke="#000" stroke-width="2.3" fill="none" stroke-linejoin="miter" stroke-linecap="butt"/>
<text x="638.6" y="2110.3" font-size="30.6" text-anchor="middle" fill="#111" stroke="#111" stroke-width="0.5">***</text>
<text x="730.7" y="2102.8" font-size="21.7" text-anchor="middle" fill="#111">ns</text>
<text x="780.5" y="2102.8" font-size="21.7" text-anchor="middle" fill="#111">ns</text>
<text x="586.8" y="2137.2" font-size="30.6" text-anchor="middle" fill="#111" stroke="#111" stroke-width="0.5">***</text>
<text x="631.2" y="2137.2" font-size="30.6" text-anchor="middle" fill="#111" stroke="#111" stroke-width="0.5">**</text>
<text x="465.5" y="2260" font-size="33" text-anchor="middle" fill="#111" transform="rotate(-90 465.5 2260)">IL-13 (pg/ml)</text>
<text x="580.2" y="2437.7" font-size="28" text-anchor="end" fill="#111" transform="rotate(-45 580.2 2437.7)">Con</text>
<text x="618.3" y="2437.7" font-size="28" text-anchor="end" fill="#111" transform="rotate(-45 618.3 2437.7)">Abx</text>
<text x="656.5" y="2437.7" font-size="28" text-anchor="end" fill="#111" transform="rotate(-45 656.5 2437.7)">Abx+IFNβ</text>
<text x="722" y="2437.7" font-size="28" text-anchor="end" fill="#111" transform="rotate(-45 722 2437.7)">Con</text>
<text x="760.2" y="2437.7" font-size="28" text-anchor="end" fill="#111" transform="rotate(-45 760.2 2437.7)">Abx</text>
<text x="800" y="2437.7" font-size="28" text-anchor="end" fill="#111" transform="rotate(-45 800 2437.7)">Abx+IFNβ</text>
<circle cx="948.5" cy="2155.5" r="9.8" fill="none" stroke="#5548d8" stroke-width="3.2" />
<circle cx="948.5" cy="2213.6" r="9.8" fill="none" stroke="#e68282" stroke-width="3.2" />
<text x="993" y="2167.5" font-size="32" fill="#111">WT</text>
<text x="993" y="2225.6" font-size="32" font-style="italic" fill="#111">Ifnar1<tspan font-style="normal" font-size="20" dy="-12">-/-</tspan></text>
</svg></body></html>
